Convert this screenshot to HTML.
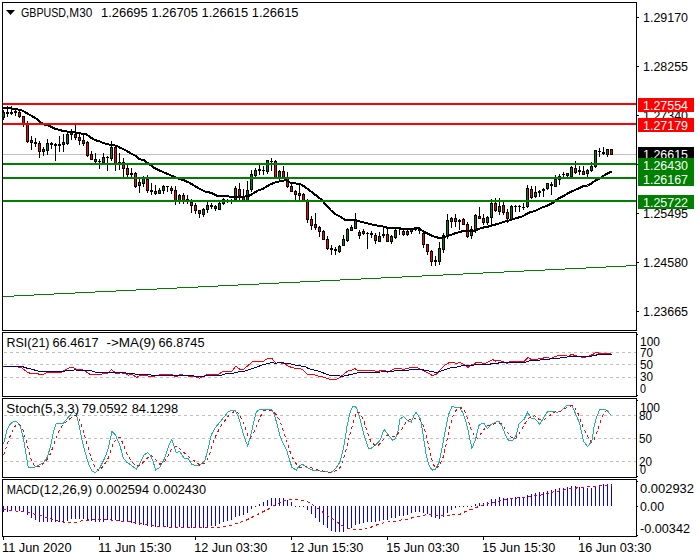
<!DOCTYPE html><html><head><meta charset="utf-8"><style>
html,body{margin:0;padding:0;background:#fff;width:700px;height:560px;overflow:hidden}
svg{display:block}text{font-family:"Liberation Sans",sans-serif;}
</style></head><body>
<svg width="700" height="560" viewBox="0 0 700 560" shape-rendering="crispEdges">
<rect x="0" y="0" width="700" height="560" fill="#fff"/>
<rect x="4" y="352" width="3" height="1" fill="#c0c0c0"/>
<rect x="10" y="352" width="3" height="1" fill="#c0c0c0"/>
<rect x="16" y="352" width="3" height="1" fill="#c0c0c0"/>
<rect x="22" y="352" width="3" height="1" fill="#c0c0c0"/>
<rect x="28" y="352" width="3" height="1" fill="#c0c0c0"/>
<rect x="34" y="352" width="3" height="1" fill="#c0c0c0"/>
<rect x="40" y="352" width="3" height="1" fill="#c0c0c0"/>
<rect x="46" y="352" width="3" height="1" fill="#c0c0c0"/>
<rect x="52" y="352" width="3" height="1" fill="#c0c0c0"/>
<rect x="58" y="352" width="3" height="1" fill="#c0c0c0"/>
<rect x="64" y="352" width="3" height="1" fill="#c0c0c0"/>
<rect x="70" y="352" width="3" height="1" fill="#c0c0c0"/>
<rect x="76" y="352" width="3" height="1" fill="#c0c0c0"/>
<rect x="82" y="352" width="3" height="1" fill="#c0c0c0"/>
<rect x="88" y="352" width="3" height="1" fill="#c0c0c0"/>
<rect x="94" y="352" width="3" height="1" fill="#c0c0c0"/>
<rect x="100" y="352" width="3" height="1" fill="#c0c0c0"/>
<rect x="106" y="352" width="3" height="1" fill="#c0c0c0"/>
<rect x="112" y="352" width="3" height="1" fill="#c0c0c0"/>
<rect x="118" y="352" width="3" height="1" fill="#c0c0c0"/>
<rect x="124" y="352" width="3" height="1" fill="#c0c0c0"/>
<rect x="130" y="352" width="3" height="1" fill="#c0c0c0"/>
<rect x="136" y="352" width="3" height="1" fill="#c0c0c0"/>
<rect x="142" y="352" width="3" height="1" fill="#c0c0c0"/>
<rect x="148" y="352" width="3" height="1" fill="#c0c0c0"/>
<rect x="154" y="352" width="3" height="1" fill="#c0c0c0"/>
<rect x="160" y="352" width="3" height="1" fill="#c0c0c0"/>
<rect x="166" y="352" width="3" height="1" fill="#c0c0c0"/>
<rect x="172" y="352" width="3" height="1" fill="#c0c0c0"/>
<rect x="178" y="352" width="3" height="1" fill="#c0c0c0"/>
<rect x="184" y="352" width="3" height="1" fill="#c0c0c0"/>
<rect x="190" y="352" width="3" height="1" fill="#c0c0c0"/>
<rect x="196" y="352" width="3" height="1" fill="#c0c0c0"/>
<rect x="202" y="352" width="3" height="1" fill="#c0c0c0"/>
<rect x="208" y="352" width="3" height="1" fill="#c0c0c0"/>
<rect x="214" y="352" width="3" height="1" fill="#c0c0c0"/>
<rect x="220" y="352" width="3" height="1" fill="#c0c0c0"/>
<rect x="226" y="352" width="3" height="1" fill="#c0c0c0"/>
<rect x="232" y="352" width="3" height="1" fill="#c0c0c0"/>
<rect x="238" y="352" width="3" height="1" fill="#c0c0c0"/>
<rect x="244" y="352" width="3" height="1" fill="#c0c0c0"/>
<rect x="250" y="352" width="3" height="1" fill="#c0c0c0"/>
<rect x="256" y="352" width="3" height="1" fill="#c0c0c0"/>
<rect x="262" y="352" width="3" height="1" fill="#c0c0c0"/>
<rect x="268" y="352" width="3" height="1" fill="#c0c0c0"/>
<rect x="274" y="352" width="3" height="1" fill="#c0c0c0"/>
<rect x="280" y="352" width="3" height="1" fill="#c0c0c0"/>
<rect x="286" y="352" width="3" height="1" fill="#c0c0c0"/>
<rect x="292" y="352" width="3" height="1" fill="#c0c0c0"/>
<rect x="298" y="352" width="3" height="1" fill="#c0c0c0"/>
<rect x="304" y="352" width="3" height="1" fill="#c0c0c0"/>
<rect x="310" y="352" width="3" height="1" fill="#c0c0c0"/>
<rect x="316" y="352" width="3" height="1" fill="#c0c0c0"/>
<rect x="322" y="352" width="3" height="1" fill="#c0c0c0"/>
<rect x="328" y="352" width="3" height="1" fill="#c0c0c0"/>
<rect x="334" y="352" width="3" height="1" fill="#c0c0c0"/>
<rect x="340" y="352" width="3" height="1" fill="#c0c0c0"/>
<rect x="346" y="352" width="3" height="1" fill="#c0c0c0"/>
<rect x="352" y="352" width="3" height="1" fill="#c0c0c0"/>
<rect x="358" y="352" width="3" height="1" fill="#c0c0c0"/>
<rect x="364" y="352" width="3" height="1" fill="#c0c0c0"/>
<rect x="370" y="352" width="3" height="1" fill="#c0c0c0"/>
<rect x="376" y="352" width="3" height="1" fill="#c0c0c0"/>
<rect x="382" y="352" width="3" height="1" fill="#c0c0c0"/>
<rect x="388" y="352" width="3" height="1" fill="#c0c0c0"/>
<rect x="394" y="352" width="3" height="1" fill="#c0c0c0"/>
<rect x="400" y="352" width="3" height="1" fill="#c0c0c0"/>
<rect x="406" y="352" width="3" height="1" fill="#c0c0c0"/>
<rect x="412" y="352" width="3" height="1" fill="#c0c0c0"/>
<rect x="418" y="352" width="3" height="1" fill="#c0c0c0"/>
<rect x="424" y="352" width="3" height="1" fill="#c0c0c0"/>
<rect x="430" y="352" width="3" height="1" fill="#c0c0c0"/>
<rect x="436" y="352" width="3" height="1" fill="#c0c0c0"/>
<rect x="442" y="352" width="3" height="1" fill="#c0c0c0"/>
<rect x="448" y="352" width="3" height="1" fill="#c0c0c0"/>
<rect x="454" y="352" width="3" height="1" fill="#c0c0c0"/>
<rect x="460" y="352" width="3" height="1" fill="#c0c0c0"/>
<rect x="466" y="352" width="3" height="1" fill="#c0c0c0"/>
<rect x="472" y="352" width="3" height="1" fill="#c0c0c0"/>
<rect x="478" y="352" width="3" height="1" fill="#c0c0c0"/>
<rect x="484" y="352" width="3" height="1" fill="#c0c0c0"/>
<rect x="490" y="352" width="3" height="1" fill="#c0c0c0"/>
<rect x="496" y="352" width="3" height="1" fill="#c0c0c0"/>
<rect x="502" y="352" width="3" height="1" fill="#c0c0c0"/>
<rect x="508" y="352" width="3" height="1" fill="#c0c0c0"/>
<rect x="514" y="352" width="3" height="1" fill="#c0c0c0"/>
<rect x="520" y="352" width="3" height="1" fill="#c0c0c0"/>
<rect x="526" y="352" width="3" height="1" fill="#c0c0c0"/>
<rect x="532" y="352" width="3" height="1" fill="#c0c0c0"/>
<rect x="538" y="352" width="3" height="1" fill="#c0c0c0"/>
<rect x="544" y="352" width="3" height="1" fill="#c0c0c0"/>
<rect x="550" y="352" width="3" height="1" fill="#c0c0c0"/>
<rect x="556" y="352" width="3" height="1" fill="#c0c0c0"/>
<rect x="562" y="352" width="3" height="1" fill="#c0c0c0"/>
<rect x="568" y="352" width="3" height="1" fill="#c0c0c0"/>
<rect x="574" y="352" width="3" height="1" fill="#c0c0c0"/>
<rect x="580" y="352" width="3" height="1" fill="#c0c0c0"/>
<rect x="586" y="352" width="3" height="1" fill="#c0c0c0"/>
<rect x="592" y="352" width="3" height="1" fill="#c0c0c0"/>
<rect x="598" y="352" width="3" height="1" fill="#c0c0c0"/>
<rect x="604" y="352" width="3" height="1" fill="#c0c0c0"/>
<rect x="610" y="352" width="3" height="1" fill="#c0c0c0"/>
<rect x="616" y="352" width="3" height="1" fill="#c0c0c0"/>
<rect x="622" y="352" width="3" height="1" fill="#c0c0c0"/>
<rect x="628" y="352" width="3" height="1" fill="#c0c0c0"/>
<rect x="634" y="352" width="2" height="1" fill="#c0c0c0"/>
<rect x="4" y="364" width="3" height="1" fill="#c0c0c0"/>
<rect x="10" y="364" width="3" height="1" fill="#c0c0c0"/>
<rect x="16" y="364" width="3" height="1" fill="#c0c0c0"/>
<rect x="22" y="364" width="3" height="1" fill="#c0c0c0"/>
<rect x="28" y="364" width="3" height="1" fill="#c0c0c0"/>
<rect x="34" y="364" width="3" height="1" fill="#c0c0c0"/>
<rect x="40" y="364" width="3" height="1" fill="#c0c0c0"/>
<rect x="46" y="364" width="3" height="1" fill="#c0c0c0"/>
<rect x="52" y="364" width="3" height="1" fill="#c0c0c0"/>
<rect x="58" y="364" width="3" height="1" fill="#c0c0c0"/>
<rect x="64" y="364" width="3" height="1" fill="#c0c0c0"/>
<rect x="70" y="364" width="3" height="1" fill="#c0c0c0"/>
<rect x="76" y="364" width="3" height="1" fill="#c0c0c0"/>
<rect x="82" y="364" width="3" height="1" fill="#c0c0c0"/>
<rect x="88" y="364" width="3" height="1" fill="#c0c0c0"/>
<rect x="94" y="364" width="3" height="1" fill="#c0c0c0"/>
<rect x="100" y="364" width="3" height="1" fill="#c0c0c0"/>
<rect x="106" y="364" width="3" height="1" fill="#c0c0c0"/>
<rect x="112" y="364" width="3" height="1" fill="#c0c0c0"/>
<rect x="118" y="364" width="3" height="1" fill="#c0c0c0"/>
<rect x="124" y="364" width="3" height="1" fill="#c0c0c0"/>
<rect x="130" y="364" width="3" height="1" fill="#c0c0c0"/>
<rect x="136" y="364" width="3" height="1" fill="#c0c0c0"/>
<rect x="142" y="364" width="3" height="1" fill="#c0c0c0"/>
<rect x="148" y="364" width="3" height="1" fill="#c0c0c0"/>
<rect x="154" y="364" width="3" height="1" fill="#c0c0c0"/>
<rect x="160" y="364" width="3" height="1" fill="#c0c0c0"/>
<rect x="166" y="364" width="3" height="1" fill="#c0c0c0"/>
<rect x="172" y="364" width="3" height="1" fill="#c0c0c0"/>
<rect x="178" y="364" width="3" height="1" fill="#c0c0c0"/>
<rect x="184" y="364" width="3" height="1" fill="#c0c0c0"/>
<rect x="190" y="364" width="3" height="1" fill="#c0c0c0"/>
<rect x="196" y="364" width="3" height="1" fill="#c0c0c0"/>
<rect x="202" y="364" width="3" height="1" fill="#c0c0c0"/>
<rect x="208" y="364" width="3" height="1" fill="#c0c0c0"/>
<rect x="214" y="364" width="3" height="1" fill="#c0c0c0"/>
<rect x="220" y="364" width="3" height="1" fill="#c0c0c0"/>
<rect x="226" y="364" width="3" height="1" fill="#c0c0c0"/>
<rect x="232" y="364" width="3" height="1" fill="#c0c0c0"/>
<rect x="238" y="364" width="3" height="1" fill="#c0c0c0"/>
<rect x="244" y="364" width="3" height="1" fill="#c0c0c0"/>
<rect x="250" y="364" width="3" height="1" fill="#c0c0c0"/>
<rect x="256" y="364" width="3" height="1" fill="#c0c0c0"/>
<rect x="262" y="364" width="3" height="1" fill="#c0c0c0"/>
<rect x="268" y="364" width="3" height="1" fill="#c0c0c0"/>
<rect x="274" y="364" width="3" height="1" fill="#c0c0c0"/>
<rect x="280" y="364" width="3" height="1" fill="#c0c0c0"/>
<rect x="286" y="364" width="3" height="1" fill="#c0c0c0"/>
<rect x="292" y="364" width="3" height="1" fill="#c0c0c0"/>
<rect x="298" y="364" width="3" height="1" fill="#c0c0c0"/>
<rect x="304" y="364" width="3" height="1" fill="#c0c0c0"/>
<rect x="310" y="364" width="3" height="1" fill="#c0c0c0"/>
<rect x="316" y="364" width="3" height="1" fill="#c0c0c0"/>
<rect x="322" y="364" width="3" height="1" fill="#c0c0c0"/>
<rect x="328" y="364" width="3" height="1" fill="#c0c0c0"/>
<rect x="334" y="364" width="3" height="1" fill="#c0c0c0"/>
<rect x="340" y="364" width="3" height="1" fill="#c0c0c0"/>
<rect x="346" y="364" width="3" height="1" fill="#c0c0c0"/>
<rect x="352" y="364" width="3" height="1" fill="#c0c0c0"/>
<rect x="358" y="364" width="3" height="1" fill="#c0c0c0"/>
<rect x="364" y="364" width="3" height="1" fill="#c0c0c0"/>
<rect x="370" y="364" width="3" height="1" fill="#c0c0c0"/>
<rect x="376" y="364" width="3" height="1" fill="#c0c0c0"/>
<rect x="382" y="364" width="3" height="1" fill="#c0c0c0"/>
<rect x="388" y="364" width="3" height="1" fill="#c0c0c0"/>
<rect x="394" y="364" width="3" height="1" fill="#c0c0c0"/>
<rect x="400" y="364" width="3" height="1" fill="#c0c0c0"/>
<rect x="406" y="364" width="3" height="1" fill="#c0c0c0"/>
<rect x="412" y="364" width="3" height="1" fill="#c0c0c0"/>
<rect x="418" y="364" width="3" height="1" fill="#c0c0c0"/>
<rect x="424" y="364" width="3" height="1" fill="#c0c0c0"/>
<rect x="430" y="364" width="3" height="1" fill="#c0c0c0"/>
<rect x="436" y="364" width="3" height="1" fill="#c0c0c0"/>
<rect x="442" y="364" width="3" height="1" fill="#c0c0c0"/>
<rect x="448" y="364" width="3" height="1" fill="#c0c0c0"/>
<rect x="454" y="364" width="3" height="1" fill="#c0c0c0"/>
<rect x="460" y="364" width="3" height="1" fill="#c0c0c0"/>
<rect x="466" y="364" width="3" height="1" fill="#c0c0c0"/>
<rect x="472" y="364" width="3" height="1" fill="#c0c0c0"/>
<rect x="478" y="364" width="3" height="1" fill="#c0c0c0"/>
<rect x="484" y="364" width="3" height="1" fill="#c0c0c0"/>
<rect x="490" y="364" width="3" height="1" fill="#c0c0c0"/>
<rect x="496" y="364" width="3" height="1" fill="#c0c0c0"/>
<rect x="502" y="364" width="3" height="1" fill="#c0c0c0"/>
<rect x="508" y="364" width="3" height="1" fill="#c0c0c0"/>
<rect x="514" y="364" width="3" height="1" fill="#c0c0c0"/>
<rect x="520" y="364" width="3" height="1" fill="#c0c0c0"/>
<rect x="526" y="364" width="3" height="1" fill="#c0c0c0"/>
<rect x="532" y="364" width="3" height="1" fill="#c0c0c0"/>
<rect x="538" y="364" width="3" height="1" fill="#c0c0c0"/>
<rect x="544" y="364" width="3" height="1" fill="#c0c0c0"/>
<rect x="550" y="364" width="3" height="1" fill="#c0c0c0"/>
<rect x="556" y="364" width="3" height="1" fill="#c0c0c0"/>
<rect x="562" y="364" width="3" height="1" fill="#c0c0c0"/>
<rect x="568" y="364" width="3" height="1" fill="#c0c0c0"/>
<rect x="574" y="364" width="3" height="1" fill="#c0c0c0"/>
<rect x="580" y="364" width="3" height="1" fill="#c0c0c0"/>
<rect x="586" y="364" width="3" height="1" fill="#c0c0c0"/>
<rect x="592" y="364" width="3" height="1" fill="#c0c0c0"/>
<rect x="598" y="364" width="3" height="1" fill="#c0c0c0"/>
<rect x="604" y="364" width="3" height="1" fill="#c0c0c0"/>
<rect x="610" y="364" width="3" height="1" fill="#c0c0c0"/>
<rect x="616" y="364" width="3" height="1" fill="#c0c0c0"/>
<rect x="622" y="364" width="3" height="1" fill="#c0c0c0"/>
<rect x="628" y="364" width="3" height="1" fill="#c0c0c0"/>
<rect x="634" y="364" width="2" height="1" fill="#c0c0c0"/>
<rect x="4" y="377" width="3" height="1" fill="#c0c0c0"/>
<rect x="10" y="377" width="3" height="1" fill="#c0c0c0"/>
<rect x="16" y="377" width="3" height="1" fill="#c0c0c0"/>
<rect x="22" y="377" width="3" height="1" fill="#c0c0c0"/>
<rect x="28" y="377" width="3" height="1" fill="#c0c0c0"/>
<rect x="34" y="377" width="3" height="1" fill="#c0c0c0"/>
<rect x="40" y="377" width="3" height="1" fill="#c0c0c0"/>
<rect x="46" y="377" width="3" height="1" fill="#c0c0c0"/>
<rect x="52" y="377" width="3" height="1" fill="#c0c0c0"/>
<rect x="58" y="377" width="3" height="1" fill="#c0c0c0"/>
<rect x="64" y="377" width="3" height="1" fill="#c0c0c0"/>
<rect x="70" y="377" width="3" height="1" fill="#c0c0c0"/>
<rect x="76" y="377" width="3" height="1" fill="#c0c0c0"/>
<rect x="82" y="377" width="3" height="1" fill="#c0c0c0"/>
<rect x="88" y="377" width="3" height="1" fill="#c0c0c0"/>
<rect x="94" y="377" width="3" height="1" fill="#c0c0c0"/>
<rect x="100" y="377" width="3" height="1" fill="#c0c0c0"/>
<rect x="106" y="377" width="3" height="1" fill="#c0c0c0"/>
<rect x="112" y="377" width="3" height="1" fill="#c0c0c0"/>
<rect x="118" y="377" width="3" height="1" fill="#c0c0c0"/>
<rect x="124" y="377" width="3" height="1" fill="#c0c0c0"/>
<rect x="130" y="377" width="3" height="1" fill="#c0c0c0"/>
<rect x="136" y="377" width="3" height="1" fill="#c0c0c0"/>
<rect x="142" y="377" width="3" height="1" fill="#c0c0c0"/>
<rect x="148" y="377" width="3" height="1" fill="#c0c0c0"/>
<rect x="154" y="377" width="3" height="1" fill="#c0c0c0"/>
<rect x="160" y="377" width="3" height="1" fill="#c0c0c0"/>
<rect x="166" y="377" width="3" height="1" fill="#c0c0c0"/>
<rect x="172" y="377" width="3" height="1" fill="#c0c0c0"/>
<rect x="178" y="377" width="3" height="1" fill="#c0c0c0"/>
<rect x="184" y="377" width="3" height="1" fill="#c0c0c0"/>
<rect x="190" y="377" width="3" height="1" fill="#c0c0c0"/>
<rect x="196" y="377" width="3" height="1" fill="#c0c0c0"/>
<rect x="202" y="377" width="3" height="1" fill="#c0c0c0"/>
<rect x="208" y="377" width="3" height="1" fill="#c0c0c0"/>
<rect x="214" y="377" width="3" height="1" fill="#c0c0c0"/>
<rect x="220" y="377" width="3" height="1" fill="#c0c0c0"/>
<rect x="226" y="377" width="3" height="1" fill="#c0c0c0"/>
<rect x="232" y="377" width="3" height="1" fill="#c0c0c0"/>
<rect x="238" y="377" width="3" height="1" fill="#c0c0c0"/>
<rect x="244" y="377" width="3" height="1" fill="#c0c0c0"/>
<rect x="250" y="377" width="3" height="1" fill="#c0c0c0"/>
<rect x="256" y="377" width="3" height="1" fill="#c0c0c0"/>
<rect x="262" y="377" width="3" height="1" fill="#c0c0c0"/>
<rect x="268" y="377" width="3" height="1" fill="#c0c0c0"/>
<rect x="274" y="377" width="3" height="1" fill="#c0c0c0"/>
<rect x="280" y="377" width="3" height="1" fill="#c0c0c0"/>
<rect x="286" y="377" width="3" height="1" fill="#c0c0c0"/>
<rect x="292" y="377" width="3" height="1" fill="#c0c0c0"/>
<rect x="298" y="377" width="3" height="1" fill="#c0c0c0"/>
<rect x="304" y="377" width="3" height="1" fill="#c0c0c0"/>
<rect x="310" y="377" width="3" height="1" fill="#c0c0c0"/>
<rect x="316" y="377" width="3" height="1" fill="#c0c0c0"/>
<rect x="322" y="377" width="3" height="1" fill="#c0c0c0"/>
<rect x="328" y="377" width="3" height="1" fill="#c0c0c0"/>
<rect x="334" y="377" width="3" height="1" fill="#c0c0c0"/>
<rect x="340" y="377" width="3" height="1" fill="#c0c0c0"/>
<rect x="346" y="377" width="3" height="1" fill="#c0c0c0"/>
<rect x="352" y="377" width="3" height="1" fill="#c0c0c0"/>
<rect x="358" y="377" width="3" height="1" fill="#c0c0c0"/>
<rect x="364" y="377" width="3" height="1" fill="#c0c0c0"/>
<rect x="370" y="377" width="3" height="1" fill="#c0c0c0"/>
<rect x="376" y="377" width="3" height="1" fill="#c0c0c0"/>
<rect x="382" y="377" width="3" height="1" fill="#c0c0c0"/>
<rect x="388" y="377" width="3" height="1" fill="#c0c0c0"/>
<rect x="394" y="377" width="3" height="1" fill="#c0c0c0"/>
<rect x="400" y="377" width="3" height="1" fill="#c0c0c0"/>
<rect x="406" y="377" width="3" height="1" fill="#c0c0c0"/>
<rect x="412" y="377" width="3" height="1" fill="#c0c0c0"/>
<rect x="418" y="377" width="3" height="1" fill="#c0c0c0"/>
<rect x="424" y="377" width="3" height="1" fill="#c0c0c0"/>
<rect x="430" y="377" width="3" height="1" fill="#c0c0c0"/>
<rect x="436" y="377" width="3" height="1" fill="#c0c0c0"/>
<rect x="442" y="377" width="3" height="1" fill="#c0c0c0"/>
<rect x="448" y="377" width="3" height="1" fill="#c0c0c0"/>
<rect x="454" y="377" width="3" height="1" fill="#c0c0c0"/>
<rect x="460" y="377" width="3" height="1" fill="#c0c0c0"/>
<rect x="466" y="377" width="3" height="1" fill="#c0c0c0"/>
<rect x="472" y="377" width="3" height="1" fill="#c0c0c0"/>
<rect x="478" y="377" width="3" height="1" fill="#c0c0c0"/>
<rect x="484" y="377" width="3" height="1" fill="#c0c0c0"/>
<rect x="490" y="377" width="3" height="1" fill="#c0c0c0"/>
<rect x="496" y="377" width="3" height="1" fill="#c0c0c0"/>
<rect x="502" y="377" width="3" height="1" fill="#c0c0c0"/>
<rect x="508" y="377" width="3" height="1" fill="#c0c0c0"/>
<rect x="514" y="377" width="3" height="1" fill="#c0c0c0"/>
<rect x="520" y="377" width="3" height="1" fill="#c0c0c0"/>
<rect x="526" y="377" width="3" height="1" fill="#c0c0c0"/>
<rect x="532" y="377" width="3" height="1" fill="#c0c0c0"/>
<rect x="538" y="377" width="3" height="1" fill="#c0c0c0"/>
<rect x="544" y="377" width="3" height="1" fill="#c0c0c0"/>
<rect x="550" y="377" width="3" height="1" fill="#c0c0c0"/>
<rect x="556" y="377" width="3" height="1" fill="#c0c0c0"/>
<rect x="562" y="377" width="3" height="1" fill="#c0c0c0"/>
<rect x="568" y="377" width="3" height="1" fill="#c0c0c0"/>
<rect x="574" y="377" width="3" height="1" fill="#c0c0c0"/>
<rect x="580" y="377" width="3" height="1" fill="#c0c0c0"/>
<rect x="586" y="377" width="3" height="1" fill="#c0c0c0"/>
<rect x="592" y="377" width="3" height="1" fill="#c0c0c0"/>
<rect x="598" y="377" width="3" height="1" fill="#c0c0c0"/>
<rect x="604" y="377" width="3" height="1" fill="#c0c0c0"/>
<rect x="610" y="377" width="3" height="1" fill="#c0c0c0"/>
<rect x="616" y="377" width="3" height="1" fill="#c0c0c0"/>
<rect x="622" y="377" width="3" height="1" fill="#c0c0c0"/>
<rect x="628" y="377" width="3" height="1" fill="#c0c0c0"/>
<rect x="634" y="377" width="2" height="1" fill="#c0c0c0"/>
<rect x="4" y="415" width="3" height="1" fill="#c0c0c0"/>
<rect x="10" y="415" width="3" height="1" fill="#c0c0c0"/>
<rect x="16" y="415" width="3" height="1" fill="#c0c0c0"/>
<rect x="22" y="415" width="3" height="1" fill="#c0c0c0"/>
<rect x="28" y="415" width="3" height="1" fill="#c0c0c0"/>
<rect x="34" y="415" width="3" height="1" fill="#c0c0c0"/>
<rect x="40" y="415" width="3" height="1" fill="#c0c0c0"/>
<rect x="46" y="415" width="3" height="1" fill="#c0c0c0"/>
<rect x="52" y="415" width="3" height="1" fill="#c0c0c0"/>
<rect x="58" y="415" width="3" height="1" fill="#c0c0c0"/>
<rect x="64" y="415" width="3" height="1" fill="#c0c0c0"/>
<rect x="70" y="415" width="3" height="1" fill="#c0c0c0"/>
<rect x="76" y="415" width="3" height="1" fill="#c0c0c0"/>
<rect x="82" y="415" width="3" height="1" fill="#c0c0c0"/>
<rect x="88" y="415" width="3" height="1" fill="#c0c0c0"/>
<rect x="94" y="415" width="3" height="1" fill="#c0c0c0"/>
<rect x="100" y="415" width="3" height="1" fill="#c0c0c0"/>
<rect x="106" y="415" width="3" height="1" fill="#c0c0c0"/>
<rect x="112" y="415" width="3" height="1" fill="#c0c0c0"/>
<rect x="118" y="415" width="3" height="1" fill="#c0c0c0"/>
<rect x="124" y="415" width="3" height="1" fill="#c0c0c0"/>
<rect x="130" y="415" width="3" height="1" fill="#c0c0c0"/>
<rect x="136" y="415" width="3" height="1" fill="#c0c0c0"/>
<rect x="142" y="415" width="3" height="1" fill="#c0c0c0"/>
<rect x="148" y="415" width="3" height="1" fill="#c0c0c0"/>
<rect x="154" y="415" width="3" height="1" fill="#c0c0c0"/>
<rect x="160" y="415" width="3" height="1" fill="#c0c0c0"/>
<rect x="166" y="415" width="3" height="1" fill="#c0c0c0"/>
<rect x="172" y="415" width="3" height="1" fill="#c0c0c0"/>
<rect x="178" y="415" width="3" height="1" fill="#c0c0c0"/>
<rect x="184" y="415" width="3" height="1" fill="#c0c0c0"/>
<rect x="190" y="415" width="3" height="1" fill="#c0c0c0"/>
<rect x="196" y="415" width="3" height="1" fill="#c0c0c0"/>
<rect x="202" y="415" width="3" height="1" fill="#c0c0c0"/>
<rect x="208" y="415" width="3" height="1" fill="#c0c0c0"/>
<rect x="214" y="415" width="3" height="1" fill="#c0c0c0"/>
<rect x="220" y="415" width="3" height="1" fill="#c0c0c0"/>
<rect x="226" y="415" width="3" height="1" fill="#c0c0c0"/>
<rect x="232" y="415" width="3" height="1" fill="#c0c0c0"/>
<rect x="238" y="415" width="3" height="1" fill="#c0c0c0"/>
<rect x="244" y="415" width="3" height="1" fill="#c0c0c0"/>
<rect x="250" y="415" width="3" height="1" fill="#c0c0c0"/>
<rect x="256" y="415" width="3" height="1" fill="#c0c0c0"/>
<rect x="262" y="415" width="3" height="1" fill="#c0c0c0"/>
<rect x="268" y="415" width="3" height="1" fill="#c0c0c0"/>
<rect x="274" y="415" width="3" height="1" fill="#c0c0c0"/>
<rect x="280" y="415" width="3" height="1" fill="#c0c0c0"/>
<rect x="286" y="415" width="3" height="1" fill="#c0c0c0"/>
<rect x="292" y="415" width="3" height="1" fill="#c0c0c0"/>
<rect x="298" y="415" width="3" height="1" fill="#c0c0c0"/>
<rect x="304" y="415" width="3" height="1" fill="#c0c0c0"/>
<rect x="310" y="415" width="3" height="1" fill="#c0c0c0"/>
<rect x="316" y="415" width="3" height="1" fill="#c0c0c0"/>
<rect x="322" y="415" width="3" height="1" fill="#c0c0c0"/>
<rect x="328" y="415" width="3" height="1" fill="#c0c0c0"/>
<rect x="334" y="415" width="3" height="1" fill="#c0c0c0"/>
<rect x="340" y="415" width="3" height="1" fill="#c0c0c0"/>
<rect x="346" y="415" width="3" height="1" fill="#c0c0c0"/>
<rect x="352" y="415" width="3" height="1" fill="#c0c0c0"/>
<rect x="358" y="415" width="3" height="1" fill="#c0c0c0"/>
<rect x="364" y="415" width="3" height="1" fill="#c0c0c0"/>
<rect x="370" y="415" width="3" height="1" fill="#c0c0c0"/>
<rect x="376" y="415" width="3" height="1" fill="#c0c0c0"/>
<rect x="382" y="415" width="3" height="1" fill="#c0c0c0"/>
<rect x="388" y="415" width="3" height="1" fill="#c0c0c0"/>
<rect x="394" y="415" width="3" height="1" fill="#c0c0c0"/>
<rect x="400" y="415" width="3" height="1" fill="#c0c0c0"/>
<rect x="406" y="415" width="3" height="1" fill="#c0c0c0"/>
<rect x="412" y="415" width="3" height="1" fill="#c0c0c0"/>
<rect x="418" y="415" width="3" height="1" fill="#c0c0c0"/>
<rect x="424" y="415" width="3" height="1" fill="#c0c0c0"/>
<rect x="430" y="415" width="3" height="1" fill="#c0c0c0"/>
<rect x="436" y="415" width="3" height="1" fill="#c0c0c0"/>
<rect x="442" y="415" width="3" height="1" fill="#c0c0c0"/>
<rect x="448" y="415" width="3" height="1" fill="#c0c0c0"/>
<rect x="454" y="415" width="3" height="1" fill="#c0c0c0"/>
<rect x="460" y="415" width="3" height="1" fill="#c0c0c0"/>
<rect x="466" y="415" width="3" height="1" fill="#c0c0c0"/>
<rect x="472" y="415" width="3" height="1" fill="#c0c0c0"/>
<rect x="478" y="415" width="3" height="1" fill="#c0c0c0"/>
<rect x="484" y="415" width="3" height="1" fill="#c0c0c0"/>
<rect x="490" y="415" width="3" height="1" fill="#c0c0c0"/>
<rect x="496" y="415" width="3" height="1" fill="#c0c0c0"/>
<rect x="502" y="415" width="3" height="1" fill="#c0c0c0"/>
<rect x="508" y="415" width="3" height="1" fill="#c0c0c0"/>
<rect x="514" y="415" width="3" height="1" fill="#c0c0c0"/>
<rect x="520" y="415" width="3" height="1" fill="#c0c0c0"/>
<rect x="526" y="415" width="3" height="1" fill="#c0c0c0"/>
<rect x="532" y="415" width="3" height="1" fill="#c0c0c0"/>
<rect x="538" y="415" width="3" height="1" fill="#c0c0c0"/>
<rect x="544" y="415" width="3" height="1" fill="#c0c0c0"/>
<rect x="550" y="415" width="3" height="1" fill="#c0c0c0"/>
<rect x="556" y="415" width="3" height="1" fill="#c0c0c0"/>
<rect x="562" y="415" width="3" height="1" fill="#c0c0c0"/>
<rect x="568" y="415" width="3" height="1" fill="#c0c0c0"/>
<rect x="574" y="415" width="3" height="1" fill="#c0c0c0"/>
<rect x="580" y="415" width="3" height="1" fill="#c0c0c0"/>
<rect x="586" y="415" width="3" height="1" fill="#c0c0c0"/>
<rect x="592" y="415" width="3" height="1" fill="#c0c0c0"/>
<rect x="598" y="415" width="3" height="1" fill="#c0c0c0"/>
<rect x="604" y="415" width="3" height="1" fill="#c0c0c0"/>
<rect x="610" y="415" width="3" height="1" fill="#c0c0c0"/>
<rect x="616" y="415" width="3" height="1" fill="#c0c0c0"/>
<rect x="622" y="415" width="3" height="1" fill="#c0c0c0"/>
<rect x="628" y="415" width="3" height="1" fill="#c0c0c0"/>
<rect x="634" y="415" width="2" height="1" fill="#c0c0c0"/>
<rect x="4" y="438" width="3" height="1" fill="#c0c0c0"/>
<rect x="10" y="438" width="3" height="1" fill="#c0c0c0"/>
<rect x="16" y="438" width="3" height="1" fill="#c0c0c0"/>
<rect x="22" y="438" width="3" height="1" fill="#c0c0c0"/>
<rect x="28" y="438" width="3" height="1" fill="#c0c0c0"/>
<rect x="34" y="438" width="3" height="1" fill="#c0c0c0"/>
<rect x="40" y="438" width="3" height="1" fill="#c0c0c0"/>
<rect x="46" y="438" width="3" height="1" fill="#c0c0c0"/>
<rect x="52" y="438" width="3" height="1" fill="#c0c0c0"/>
<rect x="58" y="438" width="3" height="1" fill="#c0c0c0"/>
<rect x="64" y="438" width="3" height="1" fill="#c0c0c0"/>
<rect x="70" y="438" width="3" height="1" fill="#c0c0c0"/>
<rect x="76" y="438" width="3" height="1" fill="#c0c0c0"/>
<rect x="82" y="438" width="3" height="1" fill="#c0c0c0"/>
<rect x="88" y="438" width="3" height="1" fill="#c0c0c0"/>
<rect x="94" y="438" width="3" height="1" fill="#c0c0c0"/>
<rect x="100" y="438" width="3" height="1" fill="#c0c0c0"/>
<rect x="106" y="438" width="3" height="1" fill="#c0c0c0"/>
<rect x="112" y="438" width="3" height="1" fill="#c0c0c0"/>
<rect x="118" y="438" width="3" height="1" fill="#c0c0c0"/>
<rect x="124" y="438" width="3" height="1" fill="#c0c0c0"/>
<rect x="130" y="438" width="3" height="1" fill="#c0c0c0"/>
<rect x="136" y="438" width="3" height="1" fill="#c0c0c0"/>
<rect x="142" y="438" width="3" height="1" fill="#c0c0c0"/>
<rect x="148" y="438" width="3" height="1" fill="#c0c0c0"/>
<rect x="154" y="438" width="3" height="1" fill="#c0c0c0"/>
<rect x="160" y="438" width="3" height="1" fill="#c0c0c0"/>
<rect x="166" y="438" width="3" height="1" fill="#c0c0c0"/>
<rect x="172" y="438" width="3" height="1" fill="#c0c0c0"/>
<rect x="178" y="438" width="3" height="1" fill="#c0c0c0"/>
<rect x="184" y="438" width="3" height="1" fill="#c0c0c0"/>
<rect x="190" y="438" width="3" height="1" fill="#c0c0c0"/>
<rect x="196" y="438" width="3" height="1" fill="#c0c0c0"/>
<rect x="202" y="438" width="3" height="1" fill="#c0c0c0"/>
<rect x="208" y="438" width="3" height="1" fill="#c0c0c0"/>
<rect x="214" y="438" width="3" height="1" fill="#c0c0c0"/>
<rect x="220" y="438" width="3" height="1" fill="#c0c0c0"/>
<rect x="226" y="438" width="3" height="1" fill="#c0c0c0"/>
<rect x="232" y="438" width="3" height="1" fill="#c0c0c0"/>
<rect x="238" y="438" width="3" height="1" fill="#c0c0c0"/>
<rect x="244" y="438" width="3" height="1" fill="#c0c0c0"/>
<rect x="250" y="438" width="3" height="1" fill="#c0c0c0"/>
<rect x="256" y="438" width="3" height="1" fill="#c0c0c0"/>
<rect x="262" y="438" width="3" height="1" fill="#c0c0c0"/>
<rect x="268" y="438" width="3" height="1" fill="#c0c0c0"/>
<rect x="274" y="438" width="3" height="1" fill="#c0c0c0"/>
<rect x="280" y="438" width="3" height="1" fill="#c0c0c0"/>
<rect x="286" y="438" width="3" height="1" fill="#c0c0c0"/>
<rect x="292" y="438" width="3" height="1" fill="#c0c0c0"/>
<rect x="298" y="438" width="3" height="1" fill="#c0c0c0"/>
<rect x="304" y="438" width="3" height="1" fill="#c0c0c0"/>
<rect x="310" y="438" width="3" height="1" fill="#c0c0c0"/>
<rect x="316" y="438" width="3" height="1" fill="#c0c0c0"/>
<rect x="322" y="438" width="3" height="1" fill="#c0c0c0"/>
<rect x="328" y="438" width="3" height="1" fill="#c0c0c0"/>
<rect x="334" y="438" width="3" height="1" fill="#c0c0c0"/>
<rect x="340" y="438" width="3" height="1" fill="#c0c0c0"/>
<rect x="346" y="438" width="3" height="1" fill="#c0c0c0"/>
<rect x="352" y="438" width="3" height="1" fill="#c0c0c0"/>
<rect x="358" y="438" width="3" height="1" fill="#c0c0c0"/>
<rect x="364" y="438" width="3" height="1" fill="#c0c0c0"/>
<rect x="370" y="438" width="3" height="1" fill="#c0c0c0"/>
<rect x="376" y="438" width="3" height="1" fill="#c0c0c0"/>
<rect x="382" y="438" width="3" height="1" fill="#c0c0c0"/>
<rect x="388" y="438" width="3" height="1" fill="#c0c0c0"/>
<rect x="394" y="438" width="3" height="1" fill="#c0c0c0"/>
<rect x="400" y="438" width="3" height="1" fill="#c0c0c0"/>
<rect x="406" y="438" width="3" height="1" fill="#c0c0c0"/>
<rect x="412" y="438" width="3" height="1" fill="#c0c0c0"/>
<rect x="418" y="438" width="3" height="1" fill="#c0c0c0"/>
<rect x="424" y="438" width="3" height="1" fill="#c0c0c0"/>
<rect x="430" y="438" width="3" height="1" fill="#c0c0c0"/>
<rect x="436" y="438" width="3" height="1" fill="#c0c0c0"/>
<rect x="442" y="438" width="3" height="1" fill="#c0c0c0"/>
<rect x="448" y="438" width="3" height="1" fill="#c0c0c0"/>
<rect x="454" y="438" width="3" height="1" fill="#c0c0c0"/>
<rect x="460" y="438" width="3" height="1" fill="#c0c0c0"/>
<rect x="466" y="438" width="3" height="1" fill="#c0c0c0"/>
<rect x="472" y="438" width="3" height="1" fill="#c0c0c0"/>
<rect x="478" y="438" width="3" height="1" fill="#c0c0c0"/>
<rect x="484" y="438" width="3" height="1" fill="#c0c0c0"/>
<rect x="490" y="438" width="3" height="1" fill="#c0c0c0"/>
<rect x="496" y="438" width="3" height="1" fill="#c0c0c0"/>
<rect x="502" y="438" width="3" height="1" fill="#c0c0c0"/>
<rect x="508" y="438" width="3" height="1" fill="#c0c0c0"/>
<rect x="514" y="438" width="3" height="1" fill="#c0c0c0"/>
<rect x="520" y="438" width="3" height="1" fill="#c0c0c0"/>
<rect x="526" y="438" width="3" height="1" fill="#c0c0c0"/>
<rect x="532" y="438" width="3" height="1" fill="#c0c0c0"/>
<rect x="538" y="438" width="3" height="1" fill="#c0c0c0"/>
<rect x="544" y="438" width="3" height="1" fill="#c0c0c0"/>
<rect x="550" y="438" width="3" height="1" fill="#c0c0c0"/>
<rect x="556" y="438" width="3" height="1" fill="#c0c0c0"/>
<rect x="562" y="438" width="3" height="1" fill="#c0c0c0"/>
<rect x="568" y="438" width="3" height="1" fill="#c0c0c0"/>
<rect x="574" y="438" width="3" height="1" fill="#c0c0c0"/>
<rect x="580" y="438" width="3" height="1" fill="#c0c0c0"/>
<rect x="586" y="438" width="3" height="1" fill="#c0c0c0"/>
<rect x="592" y="438" width="3" height="1" fill="#c0c0c0"/>
<rect x="598" y="438" width="3" height="1" fill="#c0c0c0"/>
<rect x="604" y="438" width="3" height="1" fill="#c0c0c0"/>
<rect x="610" y="438" width="3" height="1" fill="#c0c0c0"/>
<rect x="616" y="438" width="3" height="1" fill="#c0c0c0"/>
<rect x="622" y="438" width="3" height="1" fill="#c0c0c0"/>
<rect x="628" y="438" width="3" height="1" fill="#c0c0c0"/>
<rect x="634" y="438" width="2" height="1" fill="#c0c0c0"/>
<rect x="4" y="461" width="3" height="1" fill="#c0c0c0"/>
<rect x="10" y="461" width="3" height="1" fill="#c0c0c0"/>
<rect x="16" y="461" width="3" height="1" fill="#c0c0c0"/>
<rect x="22" y="461" width="3" height="1" fill="#c0c0c0"/>
<rect x="28" y="461" width="3" height="1" fill="#c0c0c0"/>
<rect x="34" y="461" width="3" height="1" fill="#c0c0c0"/>
<rect x="40" y="461" width="3" height="1" fill="#c0c0c0"/>
<rect x="46" y="461" width="3" height="1" fill="#c0c0c0"/>
<rect x="52" y="461" width="3" height="1" fill="#c0c0c0"/>
<rect x="58" y="461" width="3" height="1" fill="#c0c0c0"/>
<rect x="64" y="461" width="3" height="1" fill="#c0c0c0"/>
<rect x="70" y="461" width="3" height="1" fill="#c0c0c0"/>
<rect x="76" y="461" width="3" height="1" fill="#c0c0c0"/>
<rect x="82" y="461" width="3" height="1" fill="#c0c0c0"/>
<rect x="88" y="461" width="3" height="1" fill="#c0c0c0"/>
<rect x="94" y="461" width="3" height="1" fill="#c0c0c0"/>
<rect x="100" y="461" width="3" height="1" fill="#c0c0c0"/>
<rect x="106" y="461" width="3" height="1" fill="#c0c0c0"/>
<rect x="112" y="461" width="3" height="1" fill="#c0c0c0"/>
<rect x="118" y="461" width="3" height="1" fill="#c0c0c0"/>
<rect x="124" y="461" width="3" height="1" fill="#c0c0c0"/>
<rect x="130" y="461" width="3" height="1" fill="#c0c0c0"/>
<rect x="136" y="461" width="3" height="1" fill="#c0c0c0"/>
<rect x="142" y="461" width="3" height="1" fill="#c0c0c0"/>
<rect x="148" y="461" width="3" height="1" fill="#c0c0c0"/>
<rect x="154" y="461" width="3" height="1" fill="#c0c0c0"/>
<rect x="160" y="461" width="3" height="1" fill="#c0c0c0"/>
<rect x="166" y="461" width="3" height="1" fill="#c0c0c0"/>
<rect x="172" y="461" width="3" height="1" fill="#c0c0c0"/>
<rect x="178" y="461" width="3" height="1" fill="#c0c0c0"/>
<rect x="184" y="461" width="3" height="1" fill="#c0c0c0"/>
<rect x="190" y="461" width="3" height="1" fill="#c0c0c0"/>
<rect x="196" y="461" width="3" height="1" fill="#c0c0c0"/>
<rect x="202" y="461" width="3" height="1" fill="#c0c0c0"/>
<rect x="208" y="461" width="3" height="1" fill="#c0c0c0"/>
<rect x="214" y="461" width="3" height="1" fill="#c0c0c0"/>
<rect x="220" y="461" width="3" height="1" fill="#c0c0c0"/>
<rect x="226" y="461" width="3" height="1" fill="#c0c0c0"/>
<rect x="232" y="461" width="3" height="1" fill="#c0c0c0"/>
<rect x="238" y="461" width="3" height="1" fill="#c0c0c0"/>
<rect x="244" y="461" width="3" height="1" fill="#c0c0c0"/>
<rect x="250" y="461" width="3" height="1" fill="#c0c0c0"/>
<rect x="256" y="461" width="3" height="1" fill="#c0c0c0"/>
<rect x="262" y="461" width="3" height="1" fill="#c0c0c0"/>
<rect x="268" y="461" width="3" height="1" fill="#c0c0c0"/>
<rect x="274" y="461" width="3" height="1" fill="#c0c0c0"/>
<rect x="280" y="461" width="3" height="1" fill="#c0c0c0"/>
<rect x="286" y="461" width="3" height="1" fill="#c0c0c0"/>
<rect x="292" y="461" width="3" height="1" fill="#c0c0c0"/>
<rect x="298" y="461" width="3" height="1" fill="#c0c0c0"/>
<rect x="304" y="461" width="3" height="1" fill="#c0c0c0"/>
<rect x="310" y="461" width="3" height="1" fill="#c0c0c0"/>
<rect x="316" y="461" width="3" height="1" fill="#c0c0c0"/>
<rect x="322" y="461" width="3" height="1" fill="#c0c0c0"/>
<rect x="328" y="461" width="3" height="1" fill="#c0c0c0"/>
<rect x="334" y="461" width="3" height="1" fill="#c0c0c0"/>
<rect x="340" y="461" width="3" height="1" fill="#c0c0c0"/>
<rect x="346" y="461" width="3" height="1" fill="#c0c0c0"/>
<rect x="352" y="461" width="3" height="1" fill="#c0c0c0"/>
<rect x="358" y="461" width="3" height="1" fill="#c0c0c0"/>
<rect x="364" y="461" width="3" height="1" fill="#c0c0c0"/>
<rect x="370" y="461" width="3" height="1" fill="#c0c0c0"/>
<rect x="376" y="461" width="3" height="1" fill="#c0c0c0"/>
<rect x="382" y="461" width="3" height="1" fill="#c0c0c0"/>
<rect x="388" y="461" width="3" height="1" fill="#c0c0c0"/>
<rect x="394" y="461" width="3" height="1" fill="#c0c0c0"/>
<rect x="400" y="461" width="3" height="1" fill="#c0c0c0"/>
<rect x="406" y="461" width="3" height="1" fill="#c0c0c0"/>
<rect x="412" y="461" width="3" height="1" fill="#c0c0c0"/>
<rect x="418" y="461" width="3" height="1" fill="#c0c0c0"/>
<rect x="424" y="461" width="3" height="1" fill="#c0c0c0"/>
<rect x="430" y="461" width="3" height="1" fill="#c0c0c0"/>
<rect x="436" y="461" width="3" height="1" fill="#c0c0c0"/>
<rect x="442" y="461" width="3" height="1" fill="#c0c0c0"/>
<rect x="448" y="461" width="3" height="1" fill="#c0c0c0"/>
<rect x="454" y="461" width="3" height="1" fill="#c0c0c0"/>
<rect x="460" y="461" width="3" height="1" fill="#c0c0c0"/>
<rect x="466" y="461" width="3" height="1" fill="#c0c0c0"/>
<rect x="472" y="461" width="3" height="1" fill="#c0c0c0"/>
<rect x="478" y="461" width="3" height="1" fill="#c0c0c0"/>
<rect x="484" y="461" width="3" height="1" fill="#c0c0c0"/>
<rect x="490" y="461" width="3" height="1" fill="#c0c0c0"/>
<rect x="496" y="461" width="3" height="1" fill="#c0c0c0"/>
<rect x="502" y="461" width="3" height="1" fill="#c0c0c0"/>
<rect x="508" y="461" width="3" height="1" fill="#c0c0c0"/>
<rect x="514" y="461" width="3" height="1" fill="#c0c0c0"/>
<rect x="520" y="461" width="3" height="1" fill="#c0c0c0"/>
<rect x="526" y="461" width="3" height="1" fill="#c0c0c0"/>
<rect x="532" y="461" width="3" height="1" fill="#c0c0c0"/>
<rect x="538" y="461" width="3" height="1" fill="#c0c0c0"/>
<rect x="544" y="461" width="3" height="1" fill="#c0c0c0"/>
<rect x="550" y="461" width="3" height="1" fill="#c0c0c0"/>
<rect x="556" y="461" width="3" height="1" fill="#c0c0c0"/>
<rect x="562" y="461" width="3" height="1" fill="#c0c0c0"/>
<rect x="568" y="461" width="3" height="1" fill="#c0c0c0"/>
<rect x="574" y="461" width="3" height="1" fill="#c0c0c0"/>
<rect x="580" y="461" width="3" height="1" fill="#c0c0c0"/>
<rect x="586" y="461" width="3" height="1" fill="#c0c0c0"/>
<rect x="592" y="461" width="3" height="1" fill="#c0c0c0"/>
<rect x="598" y="461" width="3" height="1" fill="#c0c0c0"/>
<rect x="604" y="461" width="3" height="1" fill="#c0c0c0"/>
<rect x="610" y="461" width="3" height="1" fill="#c0c0c0"/>
<rect x="616" y="461" width="3" height="1" fill="#c0c0c0"/>
<rect x="622" y="461" width="3" height="1" fill="#c0c0c0"/>
<rect x="628" y="461" width="3" height="1" fill="#c0c0c0"/>
<rect x="634" y="461" width="2" height="1" fill="#c0c0c0"/>
<g shape-rendering="crispEdges">
<line x1="3" y1="296.53" x2="636" y2="265.54" stroke="#008000" stroke-width="1"/>
</g>
<rect x="3" y="154" width="633" height="1" fill="#c0c0c0"/>
<rect x="3" y="110" width="1" height="10" fill="#000"/>
<rect x="2" y="112" width="3" height="6" fill="#000"/>
<rect x="3" y="113" width="1" height="4" fill="#008000"/>
<rect x="7" y="106" width="1" height="11" fill="#000"/>
<rect x="6" y="112" width="3" height="2" fill="#000"/>
<rect x="11" y="106" width="1" height="9" fill="#000"/>
<rect x="10" y="112" width="3" height="2" fill="#000"/>
<rect x="15" y="109" width="1" height="7" fill="#000"/>
<rect x="14" y="111" width="3" height="2" fill="#000"/>
<rect x="19" y="111" width="1" height="7" fill="#000"/>
<rect x="18" y="112" width="3" height="5" fill="#000"/>
<rect x="19" y="113" width="1" height="3" fill="#ff0000"/>
<rect x="23" y="116" width="1" height="11" fill="#000"/>
<rect x="22" y="116" width="3" height="8" fill="#000"/>
<rect x="23" y="117" width="1" height="6" fill="#ff0000"/>
<rect x="27" y="121" width="1" height="22" fill="#000"/>
<rect x="26" y="124" width="3" height="18" fill="#000"/>
<rect x="27" y="125" width="1" height="16" fill="#ff0000"/>
<rect x="31" y="136" width="1" height="14" fill="#000"/>
<rect x="30" y="140" width="3" height="3" fill="#000"/>
<rect x="31" y="141" width="1" height="1" fill="#ff0000"/>
<rect x="35" y="138" width="1" height="9" fill="#000"/>
<rect x="34" y="142" width="3" height="2" fill="#000"/>
<rect x="39" y="141" width="1" height="17" fill="#000"/>
<rect x="38" y="143" width="3" height="9" fill="#000"/>
<rect x="39" y="144" width="1" height="7" fill="#ff0000"/>
<rect x="43" y="147" width="1" height="9" fill="#000"/>
<rect x="42" y="149" width="3" height="3" fill="#000"/>
<rect x="43" y="150" width="1" height="1" fill="#008000"/>
<rect x="47" y="139" width="1" height="16" fill="#000"/>
<rect x="46" y="143" width="3" height="8" fill="#000"/>
<rect x="47" y="144" width="1" height="6" fill="#008000"/>
<rect x="51" y="142" width="1" height="7" fill="#000"/>
<rect x="50" y="143" width="3" height="2" fill="#000"/>
<rect x="55" y="143" width="1" height="18" fill="#000"/>
<rect x="54" y="144" width="3" height="2" fill="#000"/>
<rect x="59" y="136" width="1" height="16" fill="#000"/>
<rect x="58" y="144" width="3" height="2" fill="#000"/>
<rect x="63" y="134" width="1" height="18" fill="#000"/>
<rect x="62" y="142" width="3" height="3" fill="#000"/>
<rect x="63" y="143" width="1" height="1" fill="#008000"/>
<rect x="67" y="133" width="1" height="12" fill="#000"/>
<rect x="66" y="134" width="3" height="10" fill="#000"/>
<rect x="67" y="135" width="1" height="8" fill="#008000"/>
<rect x="71" y="129" width="1" height="11" fill="#000"/>
<rect x="70" y="132" width="3" height="3" fill="#000"/>
<rect x="71" y="133" width="1" height="1" fill="#008000"/>
<rect x="75" y="125" width="1" height="15" fill="#000"/>
<rect x="74" y="134" width="3" height="4" fill="#000"/>
<rect x="75" y="135" width="1" height="2" fill="#ff0000"/>
<rect x="79" y="134" width="1" height="11" fill="#000"/>
<rect x="78" y="137" width="3" height="4" fill="#000"/>
<rect x="79" y="138" width="1" height="2" fill="#ff0000"/>
<rect x="83" y="135" width="1" height="11" fill="#000"/>
<rect x="82" y="140" width="3" height="4" fill="#000"/>
<rect x="83" y="141" width="1" height="2" fill="#ff0000"/>
<rect x="87" y="141" width="1" height="16" fill="#000"/>
<rect x="86" y="142" width="3" height="14" fill="#000"/>
<rect x="87" y="143" width="1" height="12" fill="#ff0000"/>
<rect x="91" y="151" width="1" height="9" fill="#000"/>
<rect x="90" y="154" width="3" height="6" fill="#000"/>
<rect x="91" y="155" width="1" height="4" fill="#ff0000"/>
<rect x="95" y="153" width="1" height="10" fill="#000"/>
<rect x="94" y="159" width="3" height="3" fill="#000"/>
<rect x="95" y="160" width="1" height="1" fill="#ff0000"/>
<rect x="99" y="159" width="1" height="10" fill="#000"/>
<rect x="98" y="161" width="3" height="1" fill="#000"/>
<rect x="103" y="153" width="1" height="11" fill="#000"/>
<rect x="102" y="157" width="3" height="6" fill="#000"/>
<rect x="103" y="158" width="1" height="4" fill="#008000"/>
<rect x="107" y="156" width="1" height="15" fill="#000"/>
<rect x="106" y="157" width="3" height="1" fill="#000"/>
<rect x="111" y="141" width="1" height="20" fill="#000"/>
<rect x="110" y="147" width="3" height="12" fill="#000"/>
<rect x="111" y="148" width="1" height="10" fill="#008000"/>
<rect x="115" y="145" width="1" height="26" fill="#000"/>
<rect x="114" y="147" width="3" height="17" fill="#000"/>
<rect x="115" y="148" width="1" height="15" fill="#ff0000"/>
<rect x="119" y="153" width="1" height="17" fill="#000"/>
<rect x="118" y="162" width="3" height="2" fill="#000"/>
<rect x="123" y="158" width="1" height="19" fill="#000"/>
<rect x="122" y="162" width="3" height="7" fill="#000"/>
<rect x="123" y="163" width="1" height="5" fill="#ff0000"/>
<rect x="127" y="165" width="1" height="13" fill="#000"/>
<rect x="126" y="168" width="3" height="7" fill="#000"/>
<rect x="127" y="169" width="1" height="5" fill="#ff0000"/>
<rect x="131" y="168" width="1" height="10" fill="#000"/>
<rect x="130" y="173" width="3" height="2" fill="#000"/>
<rect x="135" y="172" width="1" height="16" fill="#000"/>
<rect x="134" y="173" width="3" height="14" fill="#000"/>
<rect x="135" y="174" width="1" height="12" fill="#ff0000"/>
<rect x="139" y="178" width="1" height="15" fill="#000"/>
<rect x="138" y="182" width="3" height="4" fill="#000"/>
<rect x="139" y="183" width="1" height="2" fill="#008000"/>
<rect x="143" y="176" width="1" height="11" fill="#000"/>
<rect x="142" y="178" width="3" height="6" fill="#000"/>
<rect x="143" y="179" width="1" height="4" fill="#008000"/>
<rect x="147" y="175" width="1" height="18" fill="#000"/>
<rect x="146" y="179" width="3" height="12" fill="#000"/>
<rect x="147" y="180" width="1" height="10" fill="#ff0000"/>
<rect x="151" y="183" width="1" height="12" fill="#000"/>
<rect x="150" y="190" width="3" height="2" fill="#000"/>
<rect x="155" y="185" width="1" height="10" fill="#000"/>
<rect x="154" y="191" width="3" height="3" fill="#000"/>
<rect x="155" y="192" width="1" height="1" fill="#ff0000"/>
<rect x="159" y="188" width="1" height="6" fill="#000"/>
<rect x="158" y="190" width="3" height="4" fill="#000"/>
<rect x="159" y="191" width="1" height="2" fill="#008000"/>
<rect x="163" y="185" width="1" height="9" fill="#000"/>
<rect x="162" y="186" width="3" height="5" fill="#000"/>
<rect x="163" y="187" width="1" height="3" fill="#008000"/>
<rect x="167" y="186" width="1" height="6" fill="#000"/>
<rect x="166" y="186" width="3" height="1" fill="#000"/>
<rect x="171" y="186" width="1" height="8" fill="#000"/>
<rect x="170" y="188" width="3" height="3" fill="#000"/>
<rect x="171" y="189" width="1" height="1" fill="#ff0000"/>
<rect x="175" y="186" width="1" height="19" fill="#000"/>
<rect x="174" y="190" width="3" height="11" fill="#000"/>
<rect x="175" y="191" width="1" height="9" fill="#ff0000"/>
<rect x="179" y="194" width="1" height="10" fill="#000"/>
<rect x="178" y="195" width="3" height="6" fill="#000"/>
<rect x="179" y="196" width="1" height="4" fill="#008000"/>
<rect x="183" y="193" width="1" height="11" fill="#000"/>
<rect x="182" y="195" width="3" height="6" fill="#000"/>
<rect x="183" y="196" width="1" height="4" fill="#ff0000"/>
<rect x="187" y="195" width="1" height="9" fill="#000"/>
<rect x="186" y="199" width="3" height="1" fill="#000"/>
<rect x="191" y="199" width="1" height="14" fill="#000"/>
<rect x="190" y="202" width="3" height="4" fill="#000"/>
<rect x="191" y="203" width="1" height="2" fill="#ff0000"/>
<rect x="195" y="203" width="1" height="11" fill="#000"/>
<rect x="194" y="205" width="3" height="6" fill="#000"/>
<rect x="195" y="206" width="1" height="4" fill="#ff0000"/>
<rect x="199" y="210" width="1" height="8" fill="#000"/>
<rect x="198" y="210" width="3" height="4" fill="#000"/>
<rect x="199" y="211" width="1" height="2" fill="#ff0000"/>
<rect x="203" y="208" width="1" height="9" fill="#000"/>
<rect x="202" y="209" width="3" height="6" fill="#000"/>
<rect x="203" y="210" width="1" height="4" fill="#008000"/>
<rect x="207" y="202" width="1" height="11" fill="#000"/>
<rect x="206" y="205" width="3" height="5" fill="#000"/>
<rect x="207" y="206" width="1" height="3" fill="#008000"/>
<rect x="211" y="203" width="1" height="6" fill="#000"/>
<rect x="210" y="205" width="3" height="2" fill="#000"/>
<rect x="215" y="205" width="1" height="6" fill="#000"/>
<rect x="214" y="206" width="3" height="3" fill="#000"/>
<rect x="215" y="207" width="1" height="1" fill="#ff0000"/>
<rect x="219" y="202" width="1" height="8" fill="#000"/>
<rect x="218" y="203" width="3" height="7" fill="#000"/>
<rect x="219" y="204" width="1" height="5" fill="#008000"/>
<rect x="223" y="198" width="1" height="7" fill="#000"/>
<rect x="222" y="199" width="3" height="5" fill="#000"/>
<rect x="223" y="200" width="1" height="3" fill="#008000"/>
<rect x="227" y="199" width="1" height="4" fill="#000"/>
<rect x="226" y="200" width="3" height="1" fill="#000"/>
<rect x="231" y="199" width="1" height="5" fill="#000"/>
<rect x="230" y="200" width="3" height="1" fill="#000"/>
<rect x="235" y="186" width="1" height="15" fill="#000"/>
<rect x="234" y="188" width="3" height="12" fill="#000"/>
<rect x="235" y="189" width="1" height="10" fill="#008000"/>
<rect x="239" y="183" width="1" height="18" fill="#000"/>
<rect x="238" y="189" width="3" height="7" fill="#000"/>
<rect x="239" y="190" width="1" height="5" fill="#ff0000"/>
<rect x="243" y="189" width="1" height="12" fill="#000"/>
<rect x="242" y="196" width="3" height="5" fill="#000"/>
<rect x="243" y="197" width="1" height="3" fill="#ff0000"/>
<rect x="247" y="181" width="1" height="20" fill="#000"/>
<rect x="246" y="190" width="3" height="11" fill="#000"/>
<rect x="247" y="191" width="1" height="9" fill="#008000"/>
<rect x="251" y="170" width="1" height="22" fill="#000"/>
<rect x="250" y="174" width="3" height="16" fill="#000"/>
<rect x="251" y="175" width="1" height="14" fill="#008000"/>
<rect x="255" y="168" width="1" height="10" fill="#000"/>
<rect x="254" y="170" width="3" height="6" fill="#000"/>
<rect x="255" y="171" width="1" height="4" fill="#008000"/>
<rect x="259" y="165" width="1" height="10" fill="#000"/>
<rect x="258" y="169" width="3" height="2" fill="#000"/>
<rect x="263" y="166" width="1" height="9" fill="#000"/>
<rect x="262" y="170" width="3" height="1" fill="#000"/>
<rect x="267" y="160" width="1" height="14" fill="#000"/>
<rect x="266" y="160" width="3" height="12" fill="#000"/>
<rect x="267" y="161" width="1" height="10" fill="#008000"/>
<rect x="271" y="158" width="1" height="13" fill="#000"/>
<rect x="270" y="161" width="3" height="1" fill="#000"/>
<rect x="275" y="160" width="1" height="18" fill="#000"/>
<rect x="274" y="161" width="3" height="17" fill="#000"/>
<rect x="275" y="162" width="1" height="15" fill="#ff0000"/>
<rect x="279" y="170" width="1" height="10" fill="#000"/>
<rect x="278" y="171" width="3" height="7" fill="#000"/>
<rect x="279" y="172" width="1" height="5" fill="#008000"/>
<rect x="283" y="166" width="1" height="12" fill="#000"/>
<rect x="282" y="171" width="3" height="7" fill="#000"/>
<rect x="283" y="172" width="1" height="5" fill="#ff0000"/>
<rect x="287" y="172" width="1" height="16" fill="#000"/>
<rect x="286" y="177" width="3" height="10" fill="#000"/>
<rect x="287" y="178" width="1" height="8" fill="#ff0000"/>
<rect x="291" y="184" width="1" height="8" fill="#000"/>
<rect x="290" y="186" width="3" height="6" fill="#000"/>
<rect x="291" y="187" width="1" height="4" fill="#ff0000"/>
<rect x="295" y="190" width="1" height="11" fill="#000"/>
<rect x="294" y="191" width="3" height="4" fill="#000"/>
<rect x="295" y="192" width="1" height="2" fill="#ff0000"/>
<rect x="299" y="183" width="1" height="18" fill="#000"/>
<rect x="298" y="193" width="3" height="3" fill="#000"/>
<rect x="299" y="194" width="1" height="1" fill="#ff0000"/>
<rect x="303" y="193" width="1" height="9" fill="#000"/>
<rect x="302" y="194" width="3" height="7" fill="#000"/>
<rect x="303" y="195" width="1" height="5" fill="#ff0000"/>
<rect x="307" y="199" width="1" height="24" fill="#000"/>
<rect x="306" y="201" width="3" height="19" fill="#000"/>
<rect x="307" y="202" width="1" height="17" fill="#ff0000"/>
<rect x="311" y="216" width="1" height="14" fill="#000"/>
<rect x="310" y="219" width="3" height="7" fill="#000"/>
<rect x="311" y="220" width="1" height="5" fill="#ff0000"/>
<rect x="315" y="213" width="1" height="17" fill="#000"/>
<rect x="314" y="224" width="3" height="4" fill="#000"/>
<rect x="315" y="225" width="1" height="2" fill="#ff0000"/>
<rect x="319" y="226" width="1" height="11" fill="#000"/>
<rect x="318" y="227" width="3" height="5" fill="#000"/>
<rect x="319" y="228" width="1" height="3" fill="#ff0000"/>
<rect x="323" y="230" width="1" height="10" fill="#000"/>
<rect x="322" y="231" width="3" height="9" fill="#000"/>
<rect x="323" y="232" width="1" height="7" fill="#ff0000"/>
<rect x="327" y="236" width="1" height="14" fill="#000"/>
<rect x="326" y="239" width="3" height="10" fill="#000"/>
<rect x="327" y="240" width="1" height="8" fill="#ff0000"/>
<rect x="331" y="245" width="1" height="10" fill="#000"/>
<rect x="330" y="248" width="3" height="2" fill="#000"/>
<rect x="335" y="247" width="1" height="8" fill="#000"/>
<rect x="334" y="249" width="3" height="2" fill="#000"/>
<rect x="339" y="245" width="1" height="8" fill="#000"/>
<rect x="338" y="246" width="3" height="6" fill="#000"/>
<rect x="339" y="247" width="1" height="4" fill="#008000"/>
<rect x="343" y="235" width="1" height="11" fill="#000"/>
<rect x="342" y="239" width="3" height="7" fill="#000"/>
<rect x="343" y="240" width="1" height="5" fill="#008000"/>
<rect x="347" y="228" width="1" height="14" fill="#000"/>
<rect x="346" y="229" width="3" height="12" fill="#000"/>
<rect x="347" y="230" width="1" height="10" fill="#008000"/>
<rect x="351" y="225" width="1" height="6" fill="#000"/>
<rect x="350" y="227" width="3" height="4" fill="#000"/>
<rect x="351" y="228" width="1" height="2" fill="#008000"/>
<rect x="355" y="213" width="1" height="16" fill="#000"/>
<rect x="354" y="219" width="3" height="10" fill="#000"/>
<rect x="355" y="220" width="1" height="8" fill="#008000"/>
<rect x="359" y="230" width="1" height="9" fill="#000"/>
<rect x="358" y="232" width="3" height="4" fill="#000"/>
<rect x="359" y="233" width="1" height="2" fill="#008000"/>
<rect x="363" y="229" width="1" height="6" fill="#000"/>
<rect x="362" y="231" width="3" height="3" fill="#000"/>
<rect x="363" y="232" width="1" height="1" fill="#ff0000"/>
<rect x="367" y="232" width="1" height="17" fill="#000"/>
<rect x="366" y="233" width="3" height="1" fill="#000"/>
<rect x="371" y="231" width="1" height="7" fill="#000"/>
<rect x="370" y="233" width="3" height="2" fill="#000"/>
<rect x="375" y="233" width="1" height="11" fill="#000"/>
<rect x="374" y="235" width="3" height="6" fill="#000"/>
<rect x="375" y="236" width="1" height="4" fill="#ff0000"/>
<rect x="379" y="232" width="1" height="10" fill="#000"/>
<rect x="378" y="236" width="3" height="6" fill="#000"/>
<rect x="379" y="237" width="1" height="4" fill="#008000"/>
<rect x="383" y="226" width="1" height="12" fill="#000"/>
<rect x="382" y="234" width="3" height="2" fill="#000"/>
<rect x="387" y="228" width="1" height="14" fill="#000"/>
<rect x="386" y="234" width="3" height="8" fill="#000"/>
<rect x="387" y="235" width="1" height="6" fill="#ff0000"/>
<rect x="391" y="235" width="1" height="9" fill="#000"/>
<rect x="390" y="236" width="3" height="6" fill="#000"/>
<rect x="391" y="237" width="1" height="4" fill="#008000"/>
<rect x="395" y="229" width="1" height="10" fill="#000"/>
<rect x="394" y="230" width="3" height="8" fill="#000"/>
<rect x="395" y="231" width="1" height="6" fill="#008000"/>
<rect x="399" y="227" width="1" height="8" fill="#000"/>
<rect x="398" y="228" width="3" height="1" fill="#000"/>
<rect x="403" y="228" width="1" height="8" fill="#000"/>
<rect x="402" y="231" width="3" height="4" fill="#000"/>
<rect x="403" y="232" width="1" height="2" fill="#ff0000"/>
<rect x="407" y="230" width="1" height="6" fill="#000"/>
<rect x="406" y="231" width="3" height="4" fill="#000"/>
<rect x="407" y="232" width="1" height="2" fill="#008000"/>
<rect x="411" y="228" width="1" height="6" fill="#000"/>
<rect x="410" y="229" width="3" height="3" fill="#000"/>
<rect x="411" y="230" width="1" height="1" fill="#ff0000"/>
<rect x="415" y="227" width="1" height="4" fill="#000"/>
<rect x="414" y="228" width="3" height="2" fill="#000"/>
<rect x="419" y="227" width="1" height="7" fill="#000"/>
<rect x="418" y="228" width="3" height="3" fill="#000"/>
<rect x="419" y="229" width="1" height="1" fill="#ff0000"/>
<rect x="423" y="231" width="1" height="17" fill="#000"/>
<rect x="422" y="233" width="3" height="12" fill="#000"/>
<rect x="423" y="234" width="1" height="10" fill="#ff0000"/>
<rect x="427" y="244" width="1" height="11" fill="#000"/>
<rect x="426" y="244" width="3" height="8" fill="#000"/>
<rect x="427" y="245" width="1" height="6" fill="#ff0000"/>
<rect x="431" y="250" width="1" height="16" fill="#000"/>
<rect x="430" y="251" width="3" height="11" fill="#000"/>
<rect x="431" y="252" width="1" height="9" fill="#ff0000"/>
<rect x="435" y="256" width="1" height="10" fill="#000"/>
<rect x="434" y="260" width="3" height="2" fill="#000"/>
<rect x="439" y="242" width="1" height="23" fill="#000"/>
<rect x="438" y="248" width="3" height="14" fill="#000"/>
<rect x="439" y="249" width="1" height="12" fill="#008000"/>
<rect x="443" y="233" width="1" height="20" fill="#000"/>
<rect x="442" y="235" width="3" height="15" fill="#000"/>
<rect x="443" y="236" width="1" height="13" fill="#008000"/>
<rect x="447" y="214" width="1" height="25" fill="#000"/>
<rect x="446" y="220" width="3" height="17" fill="#000"/>
<rect x="447" y="221" width="1" height="15" fill="#008000"/>
<rect x="451" y="217" width="1" height="11" fill="#000"/>
<rect x="450" y="218" width="3" height="4" fill="#000"/>
<rect x="451" y="219" width="1" height="2" fill="#008000"/>
<rect x="455" y="214" width="1" height="13" fill="#000"/>
<rect x="454" y="218" width="3" height="4" fill="#000"/>
<rect x="455" y="219" width="1" height="2" fill="#ff0000"/>
<rect x="459" y="219" width="1" height="11" fill="#000"/>
<rect x="458" y="220" width="3" height="2" fill="#000"/>
<rect x="463" y="218" width="1" height="7" fill="#000"/>
<rect x="462" y="219" width="3" height="6" fill="#000"/>
<rect x="463" y="220" width="1" height="4" fill="#ff0000"/>
<rect x="467" y="222" width="1" height="16" fill="#000"/>
<rect x="466" y="224" width="3" height="13" fill="#000"/>
<rect x="467" y="225" width="1" height="11" fill="#ff0000"/>
<rect x="471" y="226" width="1" height="13" fill="#000"/>
<rect x="470" y="229" width="3" height="7" fill="#000"/>
<rect x="471" y="230" width="1" height="5" fill="#008000"/>
<rect x="475" y="214" width="1" height="19" fill="#000"/>
<rect x="474" y="215" width="3" height="15" fill="#000"/>
<rect x="475" y="216" width="1" height="13" fill="#008000"/>
<rect x="479" y="207" width="1" height="12" fill="#000"/>
<rect x="478" y="216" width="3" height="3" fill="#000"/>
<rect x="479" y="217" width="1" height="1" fill="#ff0000"/>
<rect x="483" y="214" width="1" height="11" fill="#000"/>
<rect x="482" y="218" width="3" height="5" fill="#000"/>
<rect x="483" y="219" width="1" height="3" fill="#ff0000"/>
<rect x="487" y="216" width="1" height="9" fill="#000"/>
<rect x="486" y="217" width="3" height="6" fill="#000"/>
<rect x="487" y="218" width="1" height="4" fill="#008000"/>
<rect x="491" y="199" width="1" height="26" fill="#000"/>
<rect x="490" y="203" width="3" height="15" fill="#000"/>
<rect x="491" y="204" width="1" height="13" fill="#008000"/>
<rect x="495" y="198" width="1" height="14" fill="#000"/>
<rect x="494" y="203" width="3" height="8" fill="#000"/>
<rect x="495" y="204" width="1" height="6" fill="#ff0000"/>
<rect x="499" y="198" width="1" height="17" fill="#000"/>
<rect x="498" y="206" width="3" height="6" fill="#000"/>
<rect x="499" y="207" width="1" height="4" fill="#008000"/>
<rect x="503" y="202" width="1" height="13" fill="#000"/>
<rect x="502" y="205" width="3" height="8" fill="#000"/>
<rect x="503" y="206" width="1" height="6" fill="#ff0000"/>
<rect x="507" y="209" width="1" height="14" fill="#000"/>
<rect x="506" y="212" width="3" height="7" fill="#000"/>
<rect x="507" y="213" width="1" height="5" fill="#ff0000"/>
<rect x="511" y="205" width="1" height="16" fill="#000"/>
<rect x="510" y="206" width="3" height="14" fill="#000"/>
<rect x="511" y="207" width="1" height="12" fill="#008000"/>
<rect x="515" y="205" width="1" height="7" fill="#000"/>
<rect x="514" y="206" width="3" height="1" fill="#000"/>
<rect x="519" y="205" width="1" height="7" fill="#000"/>
<rect x="518" y="206" width="3" height="1" fill="#000"/>
<rect x="523" y="203" width="1" height="7" fill="#000"/>
<rect x="522" y="207" width="3" height="1" fill="#000"/>
<rect x="527" y="185" width="1" height="23" fill="#000"/>
<rect x="526" y="188" width="3" height="19" fill="#000"/>
<rect x="527" y="189" width="1" height="17" fill="#008000"/>
<rect x="531" y="186" width="1" height="13" fill="#000"/>
<rect x="530" y="189" width="3" height="9" fill="#000"/>
<rect x="531" y="190" width="1" height="7" fill="#ff0000"/>
<rect x="535" y="186" width="1" height="12" fill="#000"/>
<rect x="534" y="192" width="3" height="5" fill="#000"/>
<rect x="535" y="193" width="1" height="3" fill="#008000"/>
<rect x="539" y="190" width="1" height="7" fill="#000"/>
<rect x="538" y="191" width="3" height="2" fill="#000"/>
<rect x="543" y="188" width="1" height="9" fill="#000"/>
<rect x="542" y="189" width="3" height="2" fill="#000"/>
<rect x="547" y="183" width="1" height="7" fill="#000"/>
<rect x="546" y="183" width="3" height="6" fill="#000"/>
<rect x="547" y="184" width="1" height="4" fill="#008000"/>
<rect x="551" y="182" width="1" height="13" fill="#000"/>
<rect x="550" y="184" width="3" height="2" fill="#000"/>
<rect x="555" y="175" width="1" height="12" fill="#000"/>
<rect x="554" y="179" width="3" height="8" fill="#000"/>
<rect x="555" y="180" width="1" height="6" fill="#008000"/>
<rect x="559" y="174" width="1" height="11" fill="#000"/>
<rect x="558" y="176" width="3" height="4" fill="#000"/>
<rect x="559" y="177" width="1" height="2" fill="#008000"/>
<rect x="563" y="172" width="1" height="5" fill="#000"/>
<rect x="562" y="174" width="3" height="1" fill="#000"/>
<rect x="567" y="173" width="1" height="4" fill="#000"/>
<rect x="566" y="173" width="3" height="3" fill="#000"/>
<rect x="567" y="174" width="1" height="1" fill="#ff0000"/>
<rect x="571" y="166" width="1" height="12" fill="#000"/>
<rect x="570" y="167" width="3" height="10" fill="#000"/>
<rect x="571" y="168" width="1" height="8" fill="#008000"/>
<rect x="575" y="161" width="1" height="13" fill="#000"/>
<rect x="574" y="168" width="3" height="5" fill="#000"/>
<rect x="575" y="169" width="1" height="3" fill="#ff0000"/>
<rect x="579" y="166" width="1" height="9" fill="#000"/>
<rect x="578" y="170" width="3" height="2" fill="#000"/>
<rect x="583" y="166" width="1" height="9" fill="#000"/>
<rect x="582" y="171" width="3" height="4" fill="#000"/>
<rect x="583" y="172" width="1" height="2" fill="#ff0000"/>
<rect x="587" y="169" width="1" height="9" fill="#000"/>
<rect x="586" y="170" width="3" height="4" fill="#000"/>
<rect x="587" y="171" width="1" height="2" fill="#008000"/>
<rect x="591" y="162" width="1" height="10" fill="#000"/>
<rect x="590" y="166" width="3" height="5" fill="#000"/>
<rect x="591" y="167" width="1" height="3" fill="#008000"/>
<rect x="595" y="150" width="1" height="18" fill="#000"/>
<rect x="594" y="150" width="3" height="17" fill="#000"/>
<rect x="595" y="151" width="1" height="15" fill="#008000"/>
<rect x="599" y="148" width="1" height="9" fill="#000"/>
<rect x="598" y="151" width="3" height="1" fill="#000"/>
<rect x="603" y="147" width="1" height="8" fill="#000"/>
<rect x="602" y="152" width="3" height="2" fill="#000"/>
<rect x="607" y="149" width="1" height="8" fill="#000"/>
<rect x="606" y="149" width="3" height="6" fill="#000"/>
<rect x="607" y="150" width="1" height="4" fill="#008000"/>
<rect x="611" y="149" width="1" height="6" fill="#000"/>
<rect x="610" y="149" width="3" height="6" fill="#000"/>
<rect x="611" y="150" width="1" height="4" fill="#ff0000"/>
<polyline points="3.40,108.30 7.60,107.90 13.40,108.90 19.10,109.70 22.60,110.70 26.20,112.90 31.20,115.70 36.20,118.60 40.50,122.10 44.80,124.60 50.50,126.40 54.80,128.60 60.50,130.30 66.20,131.40 71.90,132.10 77.60,132.90 86.20,134.30 90.50,137.40 94.80,140.00 99.80,141.40 104.10,143.30 109.80,144.70 116.20,145.70 120.50,147.90 126.90,151.00 130.50,153.20 135.50,155.70 139.50,159.30 143.50,159.80 148.40,163.50 154.10,167.90 159.80,170.70 166.90,173.60 172.60,176.10 178.40,178.60 184.10,180.40 189.80,182.90 194.80,186.00 199.10,188.60 204.80,191.40 211.90,193.10 216.90,195.70 226.20,196.10 231.90,196.90 236.20,196.90 247.60,196.40 251.90,194.30 257.60,190.70 263.40,188.60 269.10,185.00 274.80,182.60 281.90,180.70 285.50,180.40 289.80,182.40 294.10,183.30 299.80,183.90 304.10,186.40 309.80,190.70 315.50,195.00 321.20,199.30 325.50,204.30 331.20,210.70 336.20,214.70 341.20,217.10 344.80,220.00 355.50,220.00 359.80,221.40 365.50,222.90 374.10,225.00 382.60,226.40 386.20,227.40 389.10,228.30 397.60,228.30 406.20,228.90 411.90,229.30 415.50,227.90 419.10,227.90 422.60,231.10 427.60,233.60 431.90,235.70 436.20,237.40 441.90,237.90 446.20,236.40 451.90,234.60 456.20,232.90 461.90,231.40 469.10,231.10 474.80,230.70 481.20,227.90 486.90,226.90 492.60,225.40 498.40,223.60 504.10,221.70 509.80,220.30 515.50,218.30 522.60,216.40 528.40,212.90 535.50,210.70 541.20,207.90 546.90,205.70 552.60,203.10 555.50,200.50 559.50,198.00 563.50,196.00 567.50,193.50 572.50,191.00 577.50,189.00 582.50,186.50 587.50,185.50 591.50,183.50 595.50,180.50 599.50,179.00 602.50,176.50 606.50,174.00 609.50,172.50 612.00,171.80" fill="none" stroke="#000" stroke-width="2" />
<rect x="3" y="103" width="633" height="2" fill="#ff0000"/>
<rect x="3" y="123" width="633" height="2" fill="#ff0000"/>
<rect x="3" y="163" width="633" height="2" fill="#008000"/>
<rect x="3" y="177" width="633" height="2" fill="#008000"/>
<rect x="3" y="200" width="633" height="2" fill="#008000"/>
<g shape-rendering="crispEdges">
<polyline points="3.50,366.20 17.80,367.00 20.90,367.30 24.10,369.70 28.00,372.50 31.20,373.60 38.20,373.90 39.80,374.40 43.70,374.40 46.90,372.50 50.80,372.50 61.00,372.50 65.00,370.10 70.50,367.30 72.80,367.30 76.00,369.20 82.30,369.70 85.40,371.20 90.10,374.40 101.10,374.40 102.70,373.60 107.60,373.30 111.50,369.70 114.70,372.00 116.20,373.60 120.90,372.80 125.70,373.90 128.00,375.20 131.90,374.40 136.70,377.50 139.80,375.50 146.10,375.20 148.50,376.40 154.00,376.40 157.10,375.50 161.80,374.40 172.00,374.40 174.40,376.00 176.00,377.00 178.30,375.50 179.90,374.40 182.30,374.40 183.80,375.50 190.90,376.40 194.80,376.40 199.50,378.30 203.60,376.40 206.80,374.40 214.70,374.40 217.80,374.80 223.30,371.20 231.90,371.20 235.90,366.00 239.00,368.90 243.00,369.70 252.40,361.80 254.70,361.30 263.40,361.30 265.80,359.70 268.90,357.90 272.00,358.60 276.00,363.40 279.10,362.30 285.40,364.20 288.60,366.50 294.80,368.10 300.50,368.60 303.60,370.40 307.60,374.40 314.70,374.80 317.80,375.90 322.50,376.70 326.40,378.30 330.40,379.40 336.70,379.40 339.80,377.50 344.50,373.60 347.70,371.20 350.80,370.40 354.70,368.60 358.70,370.80 374.40,370.80 377.50,371.70 382.30,370.10 385.40,370.40 387.80,372.30 390.90,370.80 394.80,368.60 400.50,368.60 403.60,369.40 406.80,368.60 409.90,367.80 417.80,367.80 420.90,369.40 424.10,371.00 428.00,373.00 431.90,375.20 435.90,374.90 439.80,370.20 444.50,365.40 449.20,362.60 454.00,362.60 456.30,363.60 458.70,362.60 461.80,363.10 465.00,365.40 468.10,367.30 470.50,365.40 474.40,363.90 476.00,362.60 480.70,362.60 483.80,363.90 486.20,363.10 489.30,361.50 492.50,359.50 495.60,361.00 498.80,360.40 502.50,361.60 507.50,363.60 510.50,361.20 524.50,361.20 528.10,357.60 531.50,359.60 537.50,359.20 540.50,358.40 546.50,357.60 551.50,358.40 555.50,356.40 559.50,355.20 565.50,355.60 568.50,356.40 571.50,354.40 575.50,355.60 583.50,357.60 590.50,355.60 596.50,352.40 600.50,353.60 610.50,353.60" fill="none" stroke="#ff0000" stroke-width="1" />
<polyline points="3.50,366.20 21.50,366.20 23.50,367.00 26.50,368.00 30.50,368.90 34.50,370.00 38.50,371.20 47.50,371.50 61.50,371.50 69.50,370.40 74.50,370.00 85.50,370.10 90.50,370.40 94.50,372.00 110.50,372.50 125.50,372.50 126.50,373.60 134.50,373.60 135.50,374.50 150.50,374.50 151.50,375.50 193.50,375.50 194.50,376.40 204.50,376.40 205.50,375.50 220.90,375.50 225.70,373.60 233.50,373.10 238.20,372.00 244.50,371.20 247.70,370.10 252.40,368.60 257.10,367.00 261.80,365.10 266.50,363.80 271.30,362.60 276.00,363.40 279.10,362.30 282.30,362.60 285.40,363.40 290.10,363.80 294.80,364.90 301.10,366.00 304.50,366.20 308.40,368.60 314.70,370.10 320.90,372.00 327.20,374.40 331.20,375.50 338.20,375.50 341.40,376.40 344.50,375.90 347.70,375.20 352.40,374.10 357.10,373.10 359.50,372.30 374.40,372.30 380.70,372.00 385.40,371.70 393.30,371.40 394.80,370.40 408.50,370.20 409.90,369.40 420.90,369.40 425.70,370.50 431.90,371.40 435.90,372.70 439.00,371.70 443.70,370.20 450.80,367.80 457.10,367.00 463.40,365.40 469.70,365.40 477.50,364.70 488.60,364.70 491.70,363.60 498.00,363.60 498.80,362.60 508.50,362.40 524.50,362.40 530.50,360.40 540.50,360.00 550.50,359.00 560.50,358.00 570.50,356.40 580.50,356.40 592.50,356.00 596.50,355.00 604.50,354.40 611.50,354.40" fill="none" stroke="#000080" stroke-width="1" />
</g>
<g shape-rendering="crispEdges">
<polyline points="3.60,443.70 6.90,430.10 10.50,423.70 14.80,421.10 17.60,422.30 20.50,426.60 23.40,438.00 25.50,450.90 28.40,468.00 34.80,467.30 39.10,465.10 43.40,463.00 47.60,456.60 51.20,443.70 53.40,432.30 56.20,423.40 63.40,423.40 67.60,418.00 73.40,411.60 76.20,413.70 79.10,425.10 81.90,439.40 84.80,450.90 88.40,463.70 91.90,470.90 95.50,472.60 99.80,468.00 104.10,459.40 107.60,450.90 111.90,431.60 115.50,435.10 119.80,445.10 123.40,458.00 126.90,462.30 131.20,465.10 136.20,469.10 139.80,463.70 144.10,455.10 147.60,452.30 151.20,456.60 153.40,462.30 155.50,470.10 159.80,467.30 164.10,459.40 168.40,446.60 171.90,439.40 174.10,446.60 176.20,452.30 179.80,451.60 184.10,458.00 187.60,458.00 191.90,464.40 195.50,465.40 199.80,465.10 204.80,460.90 207.60,450.90 211.20,435.10 215.50,427.30 220.50,421.60 225.50,415.10 228.40,411.60 230.50,410.60 235.50,410.60 238.40,416.60 241.20,426.60 244.10,436.60 247.60,445.90 250.50,436.60 253.40,423.70 256.20,412.30 257.60,410.90 260.50,409.10 262.60,409.70 271.90,409.70 274.10,413.70 276.90,423.70 279.80,435.10 282.60,442.30 286.90,450.90 289.80,460.90 291.90,467.30 296.20,470.10 299.10,465.90 302.60,464.40 306.90,467.30 312.60,470.10 316.90,470.10 322.60,471.60 331.20,472.30 335.50,468.70 339.80,462.30 342.60,452.30 345.50,436.60 346.90,426.60 350.50,410.90 352.60,406.90 355.50,406.60 357.60,410.10 360.50,420.90 364.10,435.10 368.40,448.00 371.20,448.30 375.50,445.10 379.80,440.90 384.10,429.40 388.40,435.10 392.60,440.10 395.50,438.70 398.40,429.40 399.80,419.40 403.40,416.60 407.60,420.90 411.20,422.00 414.10,415.10 416.20,412.30 420.50,419.40 423.40,436.60 426.20,455.10 428.40,463.70 430.50,468.00 432.60,470.10 435.50,469.40 439.10,462.30 442.60,445.10 445.50,429.40 448.40,415.10 451.90,406.60 454.80,407.30 459.80,407.70 463.40,413.70 466.20,422.30 469.10,435.10 471.90,448.70 475.50,439.40 479.10,425.10 481.90,423.40 484.10,423.70 487.60,428.70 491.20,424.40 495.50,422.30 499.10,421.10 501.90,425.90 505.50,435.10 508.40,440.10 511.20,440.90 512.60,440.90 516.20,435.10 519.10,423.70 521.20,421.60 524.10,419.40 527.60,412.30 531.20,418.00 535.50,419.10 539.80,424.40 542.60,419.40 547.60,411.60 553.40,411.60 557.60,412.30 561.20,410.90 565.50,406.30 567.60,405.40 571.90,405.40 576.20,415.10 579.80,423.70 583.40,440.90 587.60,446.60 591.90,440.90 594.10,426.60 596.20,418.00 599.80,409.40 604.80,409.10 607.60,410.90 610.50,414.90" fill="none" stroke="#20b2aa" stroke-width="1" />
<polyline points="3.60,455.10 6.90,445.10 10.50,435.10 13.40,428.70 16.90,424.10 20.50,425.10 23.40,430.90 26.20,440.90 29.10,452.30 31.90,461.60 35.50,467.30 40.50,465.90 46.20,460.90 50.50,453.70 54.10,443.70 56.90,435.10 60.50,428.00 64.10,423.70 69.10,419.40 74.10,415.40 77.60,416.60 80.50,422.30 83.40,430.90 86.20,440.90 89.10,450.90 91.20,458.00 94.80,466.60 99.10,470.90 104.10,465.10 108.40,458.00 112.60,445.10 117.60,437.30 120.50,438.00 124.10,446.60 127.60,455.10 131.20,460.90 135.50,465.90 139.80,465.10 144.10,461.60 148.40,457.30 151.20,455.10 155.50,459.40 159.80,464.40 164.10,462.30 168.40,455.10 172.60,447.30 177.60,446.60 181.90,450.90 186.20,454.40 191.90,459.40 195.50,461.60 199.80,465.10 204.80,463.00 209.10,456.60 211.90,446.60 214.80,438.00 217.60,432.30 220.50,426.60 224.80,420.90 229.10,415.10 235.50,410.60 239.10,414.40 242.60,420.90 245.50,428.00 247.60,435.10 250.50,438.00 253.40,433.70 256.20,426.60 258.40,420.90 261.20,415.10 263.40,410.60 271.20,410.60 275.50,413.70 279.10,419.40 281.90,426.60 284.80,435.10 287.60,443.70 289.80,450.90 292.60,458.00 296.20,463.70 299.80,467.30 304.10,466.60 309.80,467.30 315.50,469.40 322.60,470.90 329.80,472.30 335.50,470.90 339.80,468.00 343.40,459.40 346.90,446.60 350.50,432.30 354.10,419.40 356.90,412.30 359.80,413.00 363.40,419.40 366.90,430.90 370.50,440.90 374.80,445.10 378.40,445.10 382.60,440.90 386.20,435.90 390.50,435.90 395.50,436.60 399.10,432.30 402.60,428.00 406.20,421.60 410.50,419.40 414.10,418.00 418.40,418.00 421.90,422.30 425.50,432.30 427.60,440.90 429.80,452.30 432.60,462.30 435.50,468.70 439.80,465.10 443.40,456.60 446.90,440.90 449.80,426.60 453.40,415.10 456.20,410.10 461.20,407.70 465.50,412.30 468.40,420.90 471.20,429.40 474.80,436.60 477.60,438.70 481.90,432.30 486.20,426.60 491.20,424.40 496.90,423.70 501.90,423.70 506.20,430.90 510.50,436.60 514.80,439.40 519.10,433.70 523.40,426.60 526.90,420.10 531.20,416.30 534.80,415.90 539.10,419.40 543.40,420.10 549.10,415.90 554.80,412.00 560.50,411.10 566.20,408.00 571.90,405.40 574.10,406.60 577.60,412.30 581.20,422.30 584.80,430.90 588.40,438.00 591.20,442.30 594.10,439.40 596.90,432.30 599.80,423.70 603.40,413.70 606.90,410.10 609.10,411.60" fill="none" stroke="#ff0000" stroke-width="1" stroke-dasharray="3,3" />
</g>
<rect x="3" y="506" width="1" height="6" fill="#0000ff"/>
<rect x="7" y="506" width="1" height="6" fill="#0000ff"/>
<rect x="11" y="506" width="1" height="5" fill="#0000ff"/>
<rect x="15" y="506" width="1" height="5" fill="#0000ff"/>
<rect x="19" y="506" width="1" height="5" fill="#0000ff"/>
<rect x="23" y="506" width="1" height="5" fill="#0000ff"/>
<rect x="27" y="506" width="1" height="9" fill="#0000ff"/>
<rect x="31" y="506" width="1" height="12" fill="#0000ff"/>
<rect x="35" y="506" width="1" height="14" fill="#0000ff"/>
<rect x="39" y="506" width="1" height="16" fill="#0000ff"/>
<rect x="43" y="506" width="1" height="16" fill="#0000ff"/>
<rect x="47" y="506" width="1" height="16" fill="#0000ff"/>
<rect x="51" y="506" width="1" height="16" fill="#0000ff"/>
<rect x="55" y="506" width="1" height="16" fill="#0000ff"/>
<rect x="59" y="506" width="1" height="16" fill="#0000ff"/>
<rect x="63" y="506" width="1" height="16" fill="#0000ff"/>
<rect x="67" y="506" width="1" height="15" fill="#0000ff"/>
<rect x="71" y="506" width="1" height="13" fill="#0000ff"/>
<rect x="75" y="506" width="1" height="13" fill="#0000ff"/>
<rect x="79" y="506" width="1" height="13" fill="#0000ff"/>
<rect x="83" y="506" width="1" height="13" fill="#0000ff"/>
<rect x="87" y="506" width="1" height="14" fill="#0000ff"/>
<rect x="91" y="506" width="1" height="15" fill="#0000ff"/>
<rect x="95" y="506" width="1" height="16" fill="#0000ff"/>
<rect x="99" y="506" width="1" height="16" fill="#0000ff"/>
<rect x="103" y="506" width="1" height="16" fill="#0000ff"/>
<rect x="107" y="506" width="1" height="14" fill="#0000ff"/>
<rect x="111" y="506" width="1" height="14" fill="#0000ff"/>
<rect x="115" y="506" width="1" height="14" fill="#0000ff"/>
<rect x="119" y="506" width="1" height="15" fill="#0000ff"/>
<rect x="123" y="506" width="1" height="16" fill="#0000ff"/>
<rect x="127" y="506" width="1" height="16" fill="#0000ff"/>
<rect x="131" y="506" width="1" height="17" fill="#0000ff"/>
<rect x="135" y="506" width="1" height="18" fill="#0000ff"/>
<rect x="139" y="506" width="1" height="19" fill="#0000ff"/>
<rect x="143" y="506" width="1" height="19" fill="#0000ff"/>
<rect x="147" y="506" width="1" height="20" fill="#0000ff"/>
<rect x="151" y="506" width="1" height="21" fill="#0000ff"/>
<rect x="155" y="506" width="1" height="21" fill="#0000ff"/>
<rect x="159" y="506" width="1" height="21" fill="#0000ff"/>
<rect x="163" y="506" width="1" height="21" fill="#0000ff"/>
<rect x="167" y="506" width="1" height="21" fill="#0000ff"/>
<rect x="171" y="506" width="1" height="21" fill="#0000ff"/>
<rect x="175" y="506" width="1" height="21" fill="#0000ff"/>
<rect x="179" y="506" width="1" height="21" fill="#0000ff"/>
<rect x="183" y="506" width="1" height="21" fill="#0000ff"/>
<rect x="187" y="506" width="1" height="21" fill="#0000ff"/>
<rect x="191" y="506" width="1" height="22" fill="#0000ff"/>
<rect x="195" y="506" width="1" height="22" fill="#0000ff"/>
<rect x="199" y="506" width="1" height="22" fill="#0000ff"/>
<rect x="203" y="506" width="1" height="22" fill="#0000ff"/>
<rect x="207" y="506" width="1" height="21" fill="#0000ff"/>
<rect x="211" y="506" width="1" height="20" fill="#0000ff"/>
<rect x="215" y="506" width="1" height="20" fill="#0000ff"/>
<rect x="219" y="506" width="1" height="18" fill="#0000ff"/>
<rect x="223" y="506" width="1" height="16" fill="#0000ff"/>
<rect x="227" y="506" width="1" height="15" fill="#0000ff"/>
<rect x="231" y="506" width="1" height="14" fill="#0000ff"/>
<rect x="235" y="506" width="1" height="11" fill="#0000ff"/>
<rect x="239" y="506" width="1" height="10" fill="#0000ff"/>
<rect x="243" y="506" width="1" height="9" fill="#0000ff"/>
<rect x="247" y="506" width="1" height="7" fill="#0000ff"/>
<rect x="251" y="506" width="1" height="3" fill="#0000ff"/>
<rect x="255" y="506" width="1" height="1" fill="#0000ff"/>
<rect x="259" y="504" width="1" height="2" fill="#0000ff"/>
<rect x="263" y="502" width="1" height="4" fill="#0000ff"/>
<rect x="267" y="500" width="1" height="6" fill="#0000ff"/>
<rect x="271" y="498" width="1" height="8" fill="#0000ff"/>
<rect x="275" y="498" width="1" height="8" fill="#0000ff"/>
<rect x="279" y="498" width="1" height="8" fill="#0000ff"/>
<rect x="283" y="498" width="1" height="8" fill="#0000ff"/>
<rect x="287" y="500" width="1" height="6" fill="#0000ff"/>
<rect x="291" y="502" width="1" height="4" fill="#0000ff"/>
<rect x="295" y="506" width="1" height="1" fill="#0000ff"/>
<rect x="299" y="506" width="1" height="1" fill="#0000ff"/>
<rect x="303" y="506" width="1" height="1" fill="#0000ff"/>
<rect x="307" y="506" width="1" height="4" fill="#0000ff"/>
<rect x="311" y="506" width="1" height="8" fill="#0000ff"/>
<rect x="315" y="506" width="1" height="12" fill="#0000ff"/>
<rect x="319" y="506" width="1" height="16" fill="#0000ff"/>
<rect x="323" y="506" width="1" height="19" fill="#0000ff"/>
<rect x="327" y="506" width="1" height="22" fill="#0000ff"/>
<rect x="331" y="506" width="1" height="25" fill="#0000ff"/>
<rect x="335" y="506" width="1" height="26" fill="#0000ff"/>
<rect x="339" y="506" width="1" height="26" fill="#0000ff"/>
<rect x="343" y="506" width="1" height="26" fill="#0000ff"/>
<rect x="347" y="506" width="1" height="23" fill="#0000ff"/>
<rect x="351" y="506" width="1" height="22" fill="#0000ff"/>
<rect x="355" y="506" width="1" height="19" fill="#0000ff"/>
<rect x="359" y="506" width="1" height="18" fill="#0000ff"/>
<rect x="363" y="506" width="1" height="17" fill="#0000ff"/>
<rect x="367" y="506" width="1" height="16" fill="#0000ff"/>
<rect x="371" y="506" width="1" height="16" fill="#0000ff"/>
<rect x="375" y="506" width="1" height="16" fill="#0000ff"/>
<rect x="379" y="506" width="1" height="15" fill="#0000ff"/>
<rect x="383" y="506" width="1" height="14" fill="#0000ff"/>
<rect x="387" y="506" width="1" height="14" fill="#0000ff"/>
<rect x="391" y="506" width="1" height="12" fill="#0000ff"/>
<rect x="395" y="506" width="1" height="12" fill="#0000ff"/>
<rect x="399" y="506" width="1" height="10" fill="#0000ff"/>
<rect x="403" y="506" width="1" height="10" fill="#0000ff"/>
<rect x="407" y="506" width="1" height="9" fill="#0000ff"/>
<rect x="411" y="506" width="1" height="7" fill="#0000ff"/>
<rect x="415" y="506" width="1" height="6" fill="#0000ff"/>
<rect x="419" y="506" width="1" height="6" fill="#0000ff"/>
<rect x="423" y="506" width="1" height="7" fill="#0000ff"/>
<rect x="427" y="506" width="1" height="8" fill="#0000ff"/>
<rect x="431" y="506" width="1" height="11" fill="#0000ff"/>
<rect x="435" y="506" width="1" height="12" fill="#0000ff"/>
<rect x="439" y="506" width="1" height="13" fill="#0000ff"/>
<rect x="443" y="506" width="1" height="11" fill="#0000ff"/>
<rect x="447" y="506" width="1" height="7" fill="#0000ff"/>
<rect x="451" y="506" width="1" height="4" fill="#0000ff"/>
<rect x="455" y="506" width="1" height="2" fill="#0000ff"/>
<rect x="459" y="506" width="1" height="1" fill="#0000ff"/>
<rect x="463" y="506" width="1" height="1" fill="#0000ff"/>
<rect x="467" y="506" width="1" height="1" fill="#0000ff"/>
<rect x="471" y="506" width="1" height="1" fill="#0000ff"/>
<rect x="475" y="504" width="1" height="2" fill="#0000ff"/>
<rect x="479" y="503" width="1" height="3" fill="#0000ff"/>
<rect x="483" y="503" width="1" height="3" fill="#0000ff"/>
<rect x="487" y="502" width="1" height="4" fill="#0000ff"/>
<rect x="491" y="499" width="1" height="7" fill="#0000ff"/>
<rect x="495" y="499" width="1" height="7" fill="#0000ff"/>
<rect x="499" y="497" width="1" height="9" fill="#0000ff"/>
<rect x="503" y="498" width="1" height="8" fill="#0000ff"/>
<rect x="507" y="498" width="1" height="8" fill="#0000ff"/>
<rect x="511" y="498" width="1" height="8" fill="#0000ff"/>
<rect x="515" y="497" width="1" height="9" fill="#0000ff"/>
<rect x="519" y="497" width="1" height="9" fill="#0000ff"/>
<rect x="523" y="497" width="1" height="9" fill="#0000ff"/>
<rect x="527" y="495" width="1" height="11" fill="#0000ff"/>
<rect x="531" y="494" width="1" height="12" fill="#0000ff"/>
<rect x="535" y="493" width="1" height="13" fill="#0000ff"/>
<rect x="539" y="492" width="1" height="14" fill="#0000ff"/>
<rect x="543" y="492" width="1" height="14" fill="#0000ff"/>
<rect x="547" y="491" width="1" height="15" fill="#0000ff"/>
<rect x="551" y="490" width="1" height="16" fill="#0000ff"/>
<rect x="555" y="489" width="1" height="17" fill="#0000ff"/>
<rect x="559" y="488" width="1" height="18" fill="#0000ff"/>
<rect x="563" y="488" width="1" height="18" fill="#0000ff"/>
<rect x="567" y="487" width="1" height="19" fill="#0000ff"/>
<rect x="571" y="486" width="1" height="20" fill="#0000ff"/>
<rect x="575" y="486" width="1" height="20" fill="#0000ff"/>
<rect x="579" y="487" width="1" height="19" fill="#0000ff"/>
<rect x="583" y="487" width="1" height="19" fill="#0000ff"/>
<rect x="587" y="488" width="1" height="18" fill="#0000ff"/>
<rect x="591" y="488" width="1" height="18" fill="#0000ff"/>
<rect x="595" y="486" width="1" height="20" fill="#0000ff"/>
<rect x="599" y="485" width="1" height="21" fill="#0000ff"/>
<rect x="603" y="484" width="1" height="22" fill="#0000ff"/>
<rect x="607" y="484" width="1" height="22" fill="#0000ff"/>
<rect x="611" y="484" width="1" height="22" fill="#0000ff"/>
<g shape-rendering="crispEdges">
<polyline points="3.50,509.20 11.50,510.40 19.40,511.50 24.10,511.50 28.00,512.30 33.50,513.90 39.80,515.50 44.50,516.70 49.20,518.30 52.40,519.60 58.70,521.10 63.40,522.20 69.70,522.60 76.00,522.20 80.70,521.10 85.40,520.40 91.70,519.60 98.00,519.90 105.50,519.60 113.40,520.20 121.20,521.10 129.10,521.80 136.90,522.70 144.80,524.30 152.70,525.90 160.50,526.50 168.40,527.00 176.30,527.40 184.10,527.40 192.00,527.40 199.80,527.70 207.70,527.40 216.80,527.40 221.50,527.00 226.20,526.20 230.90,525.40 235.70,523.80 240.40,522.20 245.10,520.70 249.80,518.30 254.50,516.00 259.20,513.60 264.00,511.20 268.70,508.90 273.40,505.70 278.10,503.40 282.80,501.00 287.50,500.20 292.30,499.40 297.00,499.40 301.70,500.70 306.40,501.30 311.10,503.40 315.50,507.00 318.60,508.90 323.40,512.80 328.90,516.40 334.40,520.20 340.70,524.60 346.90,528.10 353.20,529.30 364.20,529.30 370.50,527.40 376.80,524.90 383.10,523.00 389.40,521.80 395.70,521.10 402.00,519.90 408.30,519.10 413.00,517.50 419.30,516.10 423.60,515.50 427.60,514.40 431.50,514.80 436.20,515.50 442.50,515.50 448.00,515.50 453.50,514.80 459.80,514.40 464.50,512.00 469.20,510.10 474.00,508.60 478.70,506.50 483.40,504.90 489.70,503.40 496.00,501.80 502.30,500.20 508.60,499.10 514.80,498.30 521.10,497.60 527.40,496.60 531.80,496.00 538.10,495.50 544.40,494.40 550.70,492.40 556.90,491.30 563.20,490.30 569.50,488.70 575.80,488.10 582.10,487.20 588.40,486.50 594.70,486.40 599.40,486.10 604.10,485.60 612.00,485.30" fill="none" stroke="#ff0000" stroke-width="1" stroke-dasharray="3,3" />
</g>
<rect x="2" y="2" width="635" height="1" fill="#000"/>
<rect x="2" y="330" width="635" height="1" fill="#000"/>
<rect x="2" y="2" width="1" height="329" fill="#000"/>
<rect x="636" y="2" width="1" height="329" fill="#000"/>
<rect x="2" y="332" width="635" height="1" fill="#000"/>
<rect x="2" y="396" width="635" height="1" fill="#000"/>
<rect x="2" y="332" width="1" height="65" fill="#000"/>
<rect x="636" y="332" width="1" height="65" fill="#000"/>
<rect x="2" y="398" width="635" height="1" fill="#000"/>
<rect x="2" y="477" width="635" height="1" fill="#000"/>
<rect x="2" y="398" width="1" height="80" fill="#000"/>
<rect x="636" y="398" width="1" height="80" fill="#000"/>
<rect x="2" y="479" width="635" height="1" fill="#000"/>
<rect x="2" y="536" width="635" height="1" fill="#000"/>
<rect x="2" y="479" width="1" height="58" fill="#000"/>
<rect x="636" y="479" width="1" height="58" fill="#000"/>
<rect x="637" y="17" width="2" height="1" fill="#000"/>
<text x="643" y="22" textLength="45" lengthAdjust="spacingAndGlyphs" fill="#000" font-size="12">1.29170</text>
<rect x="637" y="66" width="2" height="1" fill="#000"/>
<text x="643" y="71" textLength="45" lengthAdjust="spacingAndGlyphs" fill="#000" font-size="12">1.28255</text>
<rect x="637" y="115" width="2" height="1" fill="#000"/>
<text x="643" y="120" textLength="45" lengthAdjust="spacingAndGlyphs" fill="#000" font-size="12">1.27340</text>
<rect x="637" y="164" width="2" height="1" fill="#000"/>
<text x="643" y="169" textLength="45" lengthAdjust="spacingAndGlyphs" fill="#000" font-size="12">1.26425</text>
<rect x="637" y="213" width="2" height="1" fill="#000"/>
<text x="643" y="218" textLength="45" lengthAdjust="spacingAndGlyphs" fill="#000" font-size="12">1.25495</text>
<rect x="637" y="262" width="2" height="1" fill="#000"/>
<text x="643" y="267" textLength="45" lengthAdjust="spacingAndGlyphs" fill="#000" font-size="12">1.24580</text>
<rect x="637" y="311" width="2" height="1" fill="#000"/>
<text x="643" y="316" textLength="45" lengthAdjust="spacingAndGlyphs" fill="#000" font-size="12">1.23665</text>
<rect x="637" y="334" width="1" height="1" fill="#000"/>
<rect x="637" y="395" width="1" height="1" fill="#000"/>
<rect x="637" y="400" width="1" height="1" fill="#000"/>
<rect x="637" y="476" width="1" height="1" fill="#000"/>
<rect x="637" y="481" width="1" height="1" fill="#000"/>
<rect x="637" y="506" width="1" height="1" fill="#000"/>
<rect x="637" y="535" width="1" height="1" fill="#000"/>
<rect x="638" y="98" width="56" height="14" fill="#ff0000"/>
<text x="643" y="110" textLength="45" lengthAdjust="spacingAndGlyphs" fill="#fff" font-size="12">1.27554</text>
<rect x="638" y="118" width="56" height="14" fill="#ff0000"/>
<text x="643" y="130" textLength="45" lengthAdjust="spacingAndGlyphs" fill="#fff" font-size="12">1.27179</text>
<rect x="638" y="147" width="56" height="14" fill="#000"/>
<text x="643" y="159" textLength="45" lengthAdjust="spacingAndGlyphs" fill="#fff" font-size="12">1.26615</text>
<rect x="638" y="158" width="56" height="14" fill="#008000"/>
<text x="643" y="170" textLength="45" lengthAdjust="spacingAndGlyphs" fill="#fff" font-size="12">1.26430</text>
<rect x="638" y="172" width="56" height="14" fill="#008000"/>
<text x="643" y="184" textLength="45" lengthAdjust="spacingAndGlyphs" fill="#fff" font-size="12">1.26167</text>
<rect x="638" y="195" width="56" height="14" fill="#008000"/>
<text x="643" y="207" textLength="45" lengthAdjust="spacingAndGlyphs" fill="#fff" font-size="12">1.25722</text>
<text x="640" y="346" textLength="20" lengthAdjust="spacingAndGlyphs" fill="#000" font-size="12">100</text>
<text x="640" y="357" textLength="13" lengthAdjust="spacingAndGlyphs" fill="#000" font-size="12">70</text>
<text x="640" y="369" textLength="13" lengthAdjust="spacingAndGlyphs" fill="#000" font-size="12">50</text>
<text x="640" y="381" textLength="13" lengthAdjust="spacingAndGlyphs" fill="#000" font-size="12">30</text>
<text x="640" y="393" textLength="6" lengthAdjust="spacingAndGlyphs" fill="#000" font-size="12">0</text>
<text x="640" y="412" textLength="20" lengthAdjust="spacingAndGlyphs" fill="#000" font-size="12">100</text>
<text x="639" y="420" textLength="13" lengthAdjust="spacingAndGlyphs" fill="#000" font-size="12">80</text>
<text x="639" y="443" textLength="13" lengthAdjust="spacingAndGlyphs" fill="#000" font-size="12">50</text>
<text x="639" y="466" textLength="13" lengthAdjust="spacingAndGlyphs" fill="#000" font-size="12">20</text>
<text x="640" y="474" textLength="6" lengthAdjust="spacingAndGlyphs" fill="#000" font-size="12">0</text>
<text x="640" y="493" textLength="54" lengthAdjust="spacingAndGlyphs" fill="#000" font-size="12">0.002932</text>
<text x="640" y="511" textLength="24" lengthAdjust="spacingAndGlyphs" fill="#000" font-size="12">0.00</text>
<text x="640" y="533" textLength="50" lengthAdjust="spacingAndGlyphs" fill="#000" font-size="12">-0.00342</text>
<polygon points="6,10 15,10 10.5,15" fill="#000" shape-rendering="auto"/>
<text x="21" y="17" textLength="48" lengthAdjust="spacingAndGlyphs" fill="#000" font-size="12">GBPUSD,</text>
<text x="69.3" y="17" textLength="23" lengthAdjust="spacingAndGlyphs" fill="#000" font-size="12">M30</text>
<text x="101" y="17" textLength="197.5" lengthAdjust="spacingAndGlyphs" fill="#000" font-size="12">1.26695 1.26705 1.26615 1.26615</text>
<text x="6.5" y="347" textLength="43" lengthAdjust="spacingAndGlyphs" fill="#000" font-size="12">RSI(21)</text>
<text x="52.5" y="347" textLength="46" lengthAdjust="spacingAndGlyphs" fill="#000" font-size="12">66.4617</text>
<text x="106.5" y="347" textLength="49" lengthAdjust="spacingAndGlyphs" fill="#000" font-size="12">-&gt;MA(9)</text>
<text x="158.5" y="347" textLength="46" lengthAdjust="spacingAndGlyphs" fill="#000" font-size="12">66.8745</text>
<text x="6.3" y="413" textLength="73" lengthAdjust="spacingAndGlyphs" fill="#000" font-size="12">Stoch(5,3,3)</text>
<text x="81.7" y="413" textLength="46" lengthAdjust="spacingAndGlyphs" fill="#000" font-size="12">79.0592</text>
<text x="131.7" y="413" textLength="46.5" lengthAdjust="spacingAndGlyphs" fill="#000" font-size="12">84.1298</text>
<text x="6.8" y="494" textLength="32.5" lengthAdjust="spacingAndGlyphs" fill="#000" font-size="12">MACD</text>
<text x="39.5" y="494" textLength="52.5" lengthAdjust="spacingAndGlyphs" fill="#000" font-size="12">(12,26,9)</text>
<text x="96" y="494" textLength="53" lengthAdjust="spacingAndGlyphs" fill="#000" font-size="12">0.002594</text>
<text x="153" y="494" textLength="53" lengthAdjust="spacingAndGlyphs" fill="#000" font-size="12">0.002430</text>
<rect x="3" y="537" width="1" height="3" fill="#000"/>
<text x="2" y="552" textLength="69.5" lengthAdjust="spacingAndGlyphs" fill="#000" font-size="12">11 Jun 2020</text>
<rect x="99" y="537" width="1" height="3" fill="#000"/>
<text x="98.2" y="552" textLength="73.2" lengthAdjust="spacingAndGlyphs" fill="#000" font-size="12">11 Jun 15:30</text>
<rect x="195" y="537" width="1" height="3" fill="#000"/>
<text x="194.2" y="552" textLength="73.2" lengthAdjust="spacingAndGlyphs" fill="#000" font-size="12">12 Jun 03:30</text>
<rect x="291" y="537" width="1" height="3" fill="#000"/>
<text x="290.2" y="552" textLength="73.2" lengthAdjust="spacingAndGlyphs" fill="#000" font-size="12">12 Jun 15:30</text>
<rect x="387" y="537" width="1" height="3" fill="#000"/>
<text x="386.2" y="552" textLength="73.2" lengthAdjust="spacingAndGlyphs" fill="#000" font-size="12">15 Jun 03:30</text>
<rect x="483" y="537" width="1" height="3" fill="#000"/>
<text x="482.2" y="552" textLength="73.2" lengthAdjust="spacingAndGlyphs" fill="#000" font-size="12">15 Jun 15:30</text>
<rect x="579" y="537" width="1" height="3" fill="#000"/>
<text x="578.2" y="552" textLength="73.2" lengthAdjust="spacingAndGlyphs" fill="#000" font-size="12">16 Jun 03:30</text>
</svg></body></html>
